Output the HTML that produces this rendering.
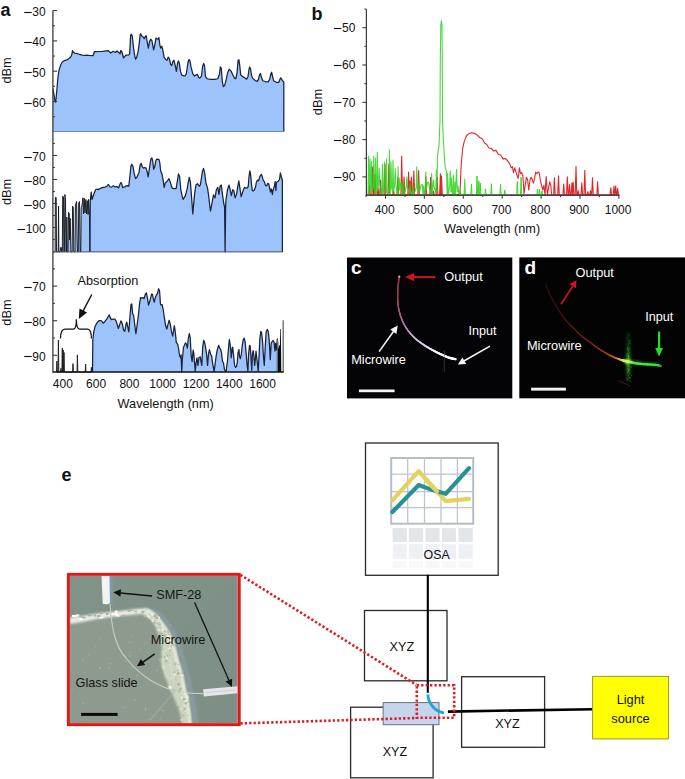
<!DOCTYPE html>
<html><head><meta charset="utf-8"><style>
html,body{margin:0;padding:0;background:#fff;}
svg{display:block;}
text{font-family:"Liberation Sans", sans-serif;}
</style></head><body>
<svg width="685" height="779" viewBox="0 0 685 779">
<rect width="685" height="779" fill="#fff"/>

<text x="0.5" y="15.8" font-size="18" font-weight="bold" fill="#111">a</text>
<path d="M52.90,131.50 L52.94,88.54 L53.84,93.93 L54.74,99.33 L55.37,102.02 L56.09,98.43 L56.99,88.54 L57.89,77.75 L58.79,71.46 L59.69,67.87 L61.03,64.27 L62.38,62.02 L64.18,60.67 L65.98,60.22 L67.78,59.33 L69.57,57.98 L71.19,56.18 L72.09,53.48 L72.45,50.61 L73.17,51.69 L74.52,53.03 L76.76,53.48 L79.46,54.38 L82.16,55.10 L84.85,55.28 L88.00,55.10 L88.54,55.50 L93.21,55.62 L94.38,51.53 L102.55,51.30 L108.39,50.60 L110.73,53.05 L113.07,51.30 L115.40,52.47 L117.15,50.95 L120.07,53.87 L120.66,50.60 L121.82,51.53 L123.58,57.96 L125.91,55.04 L128.83,54.80 L129.67,53.87 L130.61,35.18 L131.42,34.25 L132.24,36.35 L133.18,44.53 L134.34,53.87 L135.51,59.12 L136.68,57.37 L138.08,51.53 L139.25,43.36 L140.18,34.60 L140.77,33.78 L141.58,35.77 L143.10,36.93 L144.27,38.69 L145.44,36.35 L146.26,35.77 L147.42,43.36 L148.36,48.03 L149.53,41.61 L150.69,39.27 L151.86,40.44 L153.61,49.78 L154.78,45.11 L155.95,38.10 L157.12,38.69 L158.28,39.27 L158.87,37.52 L159.80,44.53 L160.62,48.03 L161.79,46.28 L162.61,49.20 L164.12,57.37 L165.88,59.71 L167.04,60.29 L168.21,57.14 L169.38,58.54 L170.55,64.38 L171.72,65.55 L172.88,61.46 L174.05,60.29 L175.22,65.55 L176.39,71.39 L177.55,63.21 L178.49,60.88 L179.31,63.21 L180.47,71.39 L181.64,74.89 L183.39,75.82 L185.15,75.82 L186.31,73.72 L188.07,62.04 L189.00,59.47 L189.93,60.88 L190.99,66.72 L192.74,73.72 L194.49,76.06 L196.24,74.89 L197.41,74.31 L198.58,77.23 L199.74,78.16 L201.50,76.06 L202.63,66.28 L203.68,63.39 L204.60,66.28 L205.52,76.79 L207.23,78.76 L210.51,79.42 L214.45,79.42 L217.74,78.76 L219.45,74.16 L220.37,66.93 L221.28,68.25 L222.34,82.04 L223.39,86.64 L224.70,85.33 L226.28,79.42 L227.59,72.85 L229.17,69.17 L230.88,70.88 L232.85,74.82 L234.42,78.10 L235.74,78.76 L237.05,72.85 L238.10,60.37 L238.89,59.71 L239.68,64.96 L240.73,74.82 L242.04,76.13 L244.67,77.84 L246.64,79.15 L247.96,76.79 L248.88,70.22 L249.66,66.93 L250.58,68.91 L251.50,75.47 L252.56,78.10 L255.18,80.47 L257.15,81.39 L258.47,79.42 L259.39,75.21 L260.44,73.50 L261.49,77.45 L262.80,80.73 L265.69,81.78 L268.32,81.78 L269.64,79.42 L270.95,73.50 L271.61,72.19 L272.53,76.13 L273.58,80.73 L276.21,82.31 L278.83,82.31 L279.88,79.42 L280.67,77.84 L281.72,79.42 L282.51,80.73 L283.43,81.39 L283.83,82.04 L283.80,131.50 Z" fill="#9dc3fd"/>
<line x1="52.9" y1="131.5" x2="283.8" y2="131.5" stroke="#6f86b8" stroke-width="1"/>
<polyline points="52.94,88.54 53.84,93.93 54.74,99.33 55.37,102.02 56.09,98.43 56.99,88.54 57.89,77.75 58.79,71.46 59.69,67.87 61.03,64.27 62.38,62.02 64.18,60.67 65.98,60.22 67.78,59.33 69.57,57.98 71.19,56.18 72.09,53.48 72.45,50.61 73.17,51.69 74.52,53.03 76.76,53.48 79.46,54.38 82.16,55.10 84.85,55.28 88.00,55.10 88.54,55.50 93.21,55.62 94.38,51.53 102.55,51.30 108.39,50.60 110.73,53.05 113.07,51.30 115.40,52.47 117.15,50.95 120.07,53.87 120.66,50.60 121.82,51.53 123.58,57.96 125.91,55.04 128.83,54.80 129.67,53.87 130.61,35.18 131.42,34.25 132.24,36.35 133.18,44.53 134.34,53.87 135.51,59.12 136.68,57.37 138.08,51.53 139.25,43.36 140.18,34.60 140.77,33.78 141.58,35.77 143.10,36.93 144.27,38.69 145.44,36.35 146.26,35.77 147.42,43.36 148.36,48.03 149.53,41.61 150.69,39.27 151.86,40.44 153.61,49.78 154.78,45.11 155.95,38.10 157.12,38.69 158.28,39.27 158.87,37.52 159.80,44.53 160.62,48.03 161.79,46.28 162.61,49.20 164.12,57.37 165.88,59.71 167.04,60.29 168.21,57.14 169.38,58.54 170.55,64.38 171.72,65.55 172.88,61.46 174.05,60.29 175.22,65.55 176.39,71.39 177.55,63.21 178.49,60.88 179.31,63.21 180.47,71.39 181.64,74.89 183.39,75.82 185.15,75.82 186.31,73.72 188.07,62.04 189.00,59.47 189.93,60.88 190.99,66.72 192.74,73.72 194.49,76.06 196.24,74.89 197.41,74.31 198.58,77.23 199.74,78.16 201.50,76.06 202.63,66.28 203.68,63.39 204.60,66.28 205.52,76.79 207.23,78.76 210.51,79.42 214.45,79.42 217.74,78.76 219.45,74.16 220.37,66.93 221.28,68.25 222.34,82.04 223.39,86.64 224.70,85.33 226.28,79.42 227.59,72.85 229.17,69.17 230.88,70.88 232.85,74.82 234.42,78.10 235.74,78.76 237.05,72.85 238.10,60.37 238.89,59.71 239.68,64.96 240.73,74.82 242.04,76.13 244.67,77.84 246.64,79.15 247.96,76.79 248.88,70.22 249.66,66.93 250.58,68.91 251.50,75.47 252.56,78.10 255.18,80.47 257.15,81.39 258.47,79.42 259.39,75.21 260.44,73.50 261.49,77.45 262.80,80.73 265.69,81.78 268.32,81.78 269.64,79.42 270.95,73.50 271.61,72.19 272.53,76.13 273.58,80.73 276.21,82.31 278.83,82.31 279.88,79.42 280.67,77.84 281.72,79.42 282.51,80.73 283.43,81.39 283.83,82.04 283.8,131.5" fill="none" stroke="#19233a" stroke-width="1.25" stroke-linejoin="round"/>
<path d="M52.90,251.90 L53.50,251.90 L55.10,251.90 L55.40,197.40 L56.20,197.60 L56.50,251.90 L58.20,251.90 L58.55,206.00 L58.90,251.90 L60.20,251.90 L60.60,247.50 L61.40,247.50 L61.70,251.90 L62.30,251.90 L62.70,196.20 L63.50,197.00 L63.90,251.90 L64.40,251.90 L64.90,194.50 L65.50,200.00 L66.00,251.90 L66.50,251.90 L66.80,217.10 L67.20,251.90 L68.00,251.90 L68.50,212.20 L69.30,214.00 L69.70,240.00 L70.20,218.30 L70.90,251.90 L72.10,251.90 L72.60,206.00 L73.30,208.00 L73.80,251.90 L75.00,251.90 L75.40,206.00 L76.10,203.00 L76.60,201.50 L77.10,238.00 L77.50,251.90 L78.30,251.90 L78.70,203.10 L79.50,201.50 L80.20,251.90 L80.80,251.90 L81.20,207.70 L82.10,205.00 L82.90,197.80 L83.50,214.00 L84.20,198.20 L85.00,213.00 L85.80,199.50 L86.60,214.00 L87.30,200.70 L88.10,214.50 L88.60,199.40 L89.40,212.00 L89.90,251.90 L90.27,201.19 L91.17,192.19 L92.06,199.39 L93.86,193.99 L95.66,189.50 L98.00,189.05 L98.18,189.71 L99.93,188.54 L101.68,187.96 L103.43,187.37 L105.18,187.14 L106.93,186.20 L108.45,184.45 L109.85,186.79 L111.61,187.14 L113.36,185.62 L115.11,187.14 L116.86,186.44 L118.61,187.96 L120.13,183.87 L120.95,182.47 L121.77,183.87 L122.70,187.61 L123.87,187.14 L125.62,186.20 L127.37,185.62 L128.77,186.20 L129.71,178.03 L130.88,166.35 L131.81,164.25 L132.98,166.35 L134.15,173.36 L135.55,178.61 L136.72,177.45 L137.88,175.11 L139.05,172.19 L140.22,164.60 L141.15,163.43 L142.32,166.93 L143.49,168.10 L144.89,167.52 L146.06,168.10 L147.23,172.19 L148.16,176.86 L149.56,167.52 L150.96,158.76 L151.90,157.94 L152.83,161.68 L153.65,169.27 L154.82,166.35 L155.99,159.93 L157.15,159.11 L158.91,159.34 L159.84,162.85 L160.66,171.02 L161.82,173.36 L162.99,179.20 L164.16,187.37 L165.33,182.70 L167.08,181.53 L168.83,178.61 L170.26,182.12 L172.01,187.96 L173.76,188.54 L176.09,188.54 L177.26,181.53 L178.43,173.94 L179.60,176.28 L180.77,189.71 L182.52,197.88 L183.10,199.05 L183.10,199.30 L185.44,195.55 L187.19,188.54 L188.36,181.53 L189.29,177.45 L190.46,182.70 L191.63,197.88 L192.80,214.00 L193.61,204.89 L194.78,192.04 L195.95,185.04 L197.47,183.64 L199.10,186.20 L200.27,185.04 L201.44,178.03 L202.37,171.61 L203.54,168.45 L204.71,173.36 L205.88,182.70 L207.63,188.54 L208.80,196.72 L209.96,207.23 L210.50,211.00 L212.30,201.39 L213.47,194.96 L214.99,197.88 L216.39,189.71 L217.79,187.37 L218.96,194.38 L220.12,186.20 L221.29,185.04 L222.46,194.38 L223.63,202.55 L224.56,207.23 L224.60,208.70 L225.10,251.90 L225.60,208.00 L225.96,200.22 L227.48,189.71 L229.00,185.04 L230.17,189.71 L231.34,195.55 L232.74,189.71 L233.91,190.88 L235.07,197.88 L236.47,194.38 L237.64,187.37 L238.81,180.95 L239.98,188.54 L241.15,196.72 L242.66,192.04 L244.42,187.37 L244.64,187.30 L245.84,188.10 L247.04,188.10 L248.25,186.50 L249.05,176.06 L249.85,170.84 L250.66,174.45 L251.46,184.09 L252.26,190.51 L253.07,190.91 L254.27,190.11 L255.47,187.30 L256.28,182.48 L257.48,180.07 L258.69,180.88 L259.49,177.66 L260.53,175.26 L261.50,174.45 L262.30,176.86 L263.10,180.07 L264.31,181.68 L265.51,185.69 L266.72,185.69 L267.76,183.28 L268.72,184.09 L269.69,188.10 L270.49,192.12 L271.13,188.91 L271.77,190.51 L272.34,194.53 L273.14,189.71 L274.34,186.50 L275.15,181.68 L275.95,190.51 L276.35,183.28 L277.15,181.68 L278.36,181.28 L279.56,179.27 L280.37,172.85 L281.17,176.06 L281.97,179.27 L282.37,179.67 L282.40,251.90 Z" fill="#9dc3fd"/>
<polyline points="53.50,251.90 55.10,251.90 55.40,197.40 56.20,197.60 56.50,251.90 58.20,251.90 58.55,206.00 58.90,251.90 60.20,251.90 60.60,247.50 61.40,247.50 61.70,251.90 62.30,251.90 62.70,196.20 63.50,197.00 63.90,251.90 64.40,251.90 64.90,194.50 65.50,200.00 66.00,251.90 66.50,251.90 66.80,217.10 67.20,251.90 68.00,251.90 68.50,212.20 69.30,214.00 69.70,240.00 70.20,218.30 70.90,251.90 72.10,251.90 72.60,206.00 73.30,208.00 73.80,251.90 75.00,251.90 75.40,206.00 76.10,203.00 76.60,201.50 77.10,238.00 77.50,251.90 78.30,251.90 78.70,203.10 79.50,201.50 80.20,251.90 80.80,251.90 81.20,207.70 82.10,205.00 82.90,197.80 83.50,214.00 84.20,198.20 85.00,213.00 85.80,199.50 86.60,214.00 87.30,200.70 88.10,214.50 88.60,199.40 89.40,212.00 89.90,251.90" fill="none" stroke="#15171d" stroke-width="0.95" stroke-linejoin="miter"/>
<polyline points="89.9,251.9 90.27,201.19 91.17,192.19 92.06,199.39 93.86,193.99 95.66,189.50 98.00,189.05 98.18,189.71 99.93,188.54 101.68,187.96 103.43,187.37 105.18,187.14 106.93,186.20 108.45,184.45 109.85,186.79 111.61,187.14 113.36,185.62 115.11,187.14 116.86,186.44 118.61,187.96 120.13,183.87 120.95,182.47 121.77,183.87 122.70,187.61 123.87,187.14 125.62,186.20 127.37,185.62 128.77,186.20 129.71,178.03 130.88,166.35 131.81,164.25 132.98,166.35 134.15,173.36 135.55,178.61 136.72,177.45 137.88,175.11 139.05,172.19 140.22,164.60 141.15,163.43 142.32,166.93 143.49,168.10 144.89,167.52 146.06,168.10 147.23,172.19 148.16,176.86 149.56,167.52 150.96,158.76 151.90,157.94 152.83,161.68 153.65,169.27 154.82,166.35 155.99,159.93 157.15,159.11 158.91,159.34 159.84,162.85 160.66,171.02 161.82,173.36 162.99,179.20 164.16,187.37 165.33,182.70 167.08,181.53 168.83,178.61 170.26,182.12 172.01,187.96 173.76,188.54 176.09,188.54 177.26,181.53 178.43,173.94 179.60,176.28 180.77,189.71 182.52,197.88 183.10,199.05 183.10,199.30 185.44,195.55 187.19,188.54 188.36,181.53 189.29,177.45 190.46,182.70 191.63,197.88 192.80,214.00 193.61,204.89 194.78,192.04 195.95,185.04 197.47,183.64 199.10,186.20 200.27,185.04 201.44,178.03 202.37,171.61 203.54,168.45 204.71,173.36 205.88,182.70 207.63,188.54 208.80,196.72 209.96,207.23 210.50,211.00 212.30,201.39 213.47,194.96 214.99,197.88 216.39,189.71 217.79,187.37 218.96,194.38 220.12,186.20 221.29,185.04 222.46,194.38 223.63,202.55 224.56,207.23 224.60,208.70 225.10,251.90 225.60,208.00 225.96,200.22 227.48,189.71 229.00,185.04 230.17,189.71 231.34,195.55 232.74,189.71 233.91,190.88 235.07,197.88 236.47,194.38 237.64,187.37 238.81,180.95 239.98,188.54 241.15,196.72 242.66,192.04 244.42,187.37 244.64,187.30 245.84,188.10 247.04,188.10 248.25,186.50 249.05,176.06 249.85,170.84 250.66,174.45 251.46,184.09 252.26,190.51 253.07,190.91 254.27,190.11 255.47,187.30 256.28,182.48 257.48,180.07 258.69,180.88 259.49,177.66 260.53,175.26 261.50,174.45 262.30,176.86 263.10,180.07 264.31,181.68 265.51,185.69 266.72,185.69 267.76,183.28 268.72,184.09 269.69,188.10 270.49,192.12 271.13,188.91 271.77,190.51 272.34,194.53 273.14,189.71 274.34,186.50 275.15,181.68 275.95,190.51 276.35,183.28 277.15,181.68 278.36,181.28 279.56,179.27 280.37,172.85 281.17,176.06 281.97,179.27 282.37,179.67 282.4,251.9" fill="none" stroke="#19233a" stroke-width="1.25" stroke-linejoin="round"/>
<line x1="52.9" y1="251.9" x2="282.6" y2="251.9" stroke="#555" stroke-width="1"/>
<path d="M92.51,372.10 L92.51,372.06 L92.80,340.46 L93.76,331.79 L95.21,326.01 L97.13,322.64 L99.06,320.71 L100.99,320.71 L101.42,320.88 L103.18,323.21 L104.93,321.46 L106.68,319.12 L108.43,316.20 L109.25,314.80 L110.18,317.37 L111.35,319.71 L113.10,319.12 L114.85,319.12 L116.02,320.88 L117.19,324.38 L118.36,328.47 L119.53,324.96 L120.93,320.88 L122.09,323.21 L123.61,330.22 L124.78,331.39 L125.95,324.38 L126.77,322.04 L127.70,326.72 L128.87,331.97 L129.80,318.54 L130.97,304.53 L131.79,303.94 L132.61,313.87 L133.54,315.04 L134.71,324.38 L135.88,333.72 L137.04,325.55 L138.45,315.04 L139.61,303.36 L140.55,297.52 L141.72,298.10 L142.88,297.52 L144.05,298.69 L145.45,294.01 L146.39,292.85 L147.55,298.69 L148.49,305.11 L149.31,302.77 L150.47,298.69 L151.64,294.01 L152.58,294.60 L153.39,299.27 L154.33,302.19 L155.15,298.10 L156.31,295.18 L157.48,293.43 L158.65,288.76 L159.58,291.09 L160.40,303.36 L160.99,305.11 L162.15,304.53 L163.32,310.36 L164.49,318.54 L165.66,325.55 L166.82,329.05 L167.99,324.38 L169.16,320.29 L170.33,324.38 L171.50,331.39 L172.66,336.06 L173.37,331.78 L174.33,325.52 L175.30,331.78 L176.26,342.38 L177.70,344.30 L178.67,349.12 L179.63,355.86 L180.59,357.79 L181.08,354.90 L181.75,371.75 L182.33,359.71 L183.48,347.19 L184.45,345.27 L185.41,342.86 L186.37,343.82 L187.34,348.16 L188.30,338.52 L189.26,333.71 L190.23,337.56 L191.19,355.86 L192.15,361.64 L193.11,350.08 L193.89,353.93 L194.56,362.60 L195.23,371.27 L196.00,363.57 L196.97,357.79 L197.93,365.49 L198.89,357.79 L200.34,356.82 L201.01,361.64 L201.78,365.49 L202.75,346.23 L203.71,340.45 L204.67,342.38 L205.83,349.12 L206.79,355.86 L207.56,365.49 L208.52,353.93 L209.49,349.60 L210.45,353.93 L211.61,355.86 L212.38,361.64 L213.34,367.42 L214.11,371.75 L214.78,366.45 L216.04,356.82 L217.19,350.08 L218.64,345.27 L219.60,348.16 L220.56,349.12 L221.53,352.97 L222.49,361.64 L223.45,362.60 L224.42,369.34 L225.38,371.27 L226.34,371.27 L226.44,367.89 L227.41,361.63 L228.37,350.07 L229.33,339.48 L230.30,345.26 L231.26,357.78 L232.22,348.15 L232.70,347.18 L233.67,355.85 L234.63,365.48 L235.59,367.40 L236.56,366.44 L237.33,361.63 L238.00,352.96 L238.96,349.59 L239.44,355.85 L240.41,358.74 L241.37,353.92 L242.14,346.22 L243.30,339.48 L244.26,338.04 L245.22,342.37 L246.18,353.92 L247.15,365.48 L247.92,371.26 L248.59,353.92 L249.55,345.26 L250.23,346.22 L251.00,357.78 L251.77,370.29 L252.44,353.92 L253.12,350.55 L253.89,355.85 L254.66,365.48 L255.33,359.70 L256.01,351.04 L256.78,357.78 L257.74,366.44 L258.22,371.26 L259.18,353.92 L259.86,338.52 L260.82,331.30 L261.59,332.74 L262.55,341.41 L263.52,357.78 L264.29,365.48 L265.25,346.22 L266.21,331.78 L267.37,329.37 L268.33,331.78 L269.29,341.41 L270.26,359.70 L271.22,343.33 L272.18,341.41 L273.15,340.44 L274.11,342.37 L274.88,351.04 L275.55,343.33 L276.52,350.07 L277.19,339.48 L277.77,342.37 L277.96,371.74 L275.00,372.10 Z" fill="#9dc3fd"/>
<polyline points="92.51,372.06 92.80,340.46 93.76,331.79 95.21,326.01 97.13,322.64 99.06,320.71 100.99,320.71 101.42,320.88 103.18,323.21 104.93,321.46 106.68,319.12 108.43,316.20 109.25,314.80 110.18,317.37 111.35,319.71 113.10,319.12 114.85,319.12 116.02,320.88 117.19,324.38 118.36,328.47 119.53,324.96 120.93,320.88 122.09,323.21 123.61,330.22 124.78,331.39 125.95,324.38 126.77,322.04 127.70,326.72 128.87,331.97 129.80,318.54 130.97,304.53 131.79,303.94 132.61,313.87 133.54,315.04 134.71,324.38 135.88,333.72 137.04,325.55 138.45,315.04 139.61,303.36 140.55,297.52 141.72,298.10 142.88,297.52 144.05,298.69 145.45,294.01 146.39,292.85 147.55,298.69 148.49,305.11 149.31,302.77 150.47,298.69 151.64,294.01 152.58,294.60 153.39,299.27 154.33,302.19 155.15,298.10 156.31,295.18 157.48,293.43 158.65,288.76 159.58,291.09 160.40,303.36 160.99,305.11 162.15,304.53 163.32,310.36 164.49,318.54 165.66,325.55 166.82,329.05 167.99,324.38 169.16,320.29 170.33,324.38 171.50,331.39 172.66,336.06 173.37,331.78 174.33,325.52 175.30,331.78 176.26,342.38 177.70,344.30 178.67,349.12 179.63,355.86 180.59,357.79 181.08,354.90 181.75,371.75 182.33,359.71 183.48,347.19 184.45,345.27 185.41,342.86 186.37,343.82 187.34,348.16 188.30,338.52 189.26,333.71 190.23,337.56 191.19,355.86 192.15,361.64 193.11,350.08 193.89,353.93 194.56,362.60 195.23,371.27 196.00,363.57 196.97,357.79 197.93,365.49 198.89,357.79 200.34,356.82 201.01,361.64 201.78,365.49 202.75,346.23 203.71,340.45 204.67,342.38 205.83,349.12 206.79,355.86 207.56,365.49 208.52,353.93 209.49,349.60 210.45,353.93 211.61,355.86 212.38,361.64 213.34,367.42 214.11,371.75 214.78,366.45 216.04,356.82 217.19,350.08 218.64,345.27 219.60,348.16 220.56,349.12 221.53,352.97 222.49,361.64 223.45,362.60 224.42,369.34 225.38,371.27 226.34,371.27 226.44,367.89 227.41,361.63 228.37,350.07 229.33,339.48 230.30,345.26 231.26,357.78 232.22,348.15 232.70,347.18 233.67,355.85 234.63,365.48 235.59,367.40 236.56,366.44 237.33,361.63 238.00,352.96 238.96,349.59 239.44,355.85 240.41,358.74 241.37,353.92 242.14,346.22 243.30,339.48 244.26,338.04 245.22,342.37 246.18,353.92 247.15,365.48 247.92,371.26 248.59,353.92 249.55,345.26 250.23,346.22 251.00,357.78 251.77,370.29 252.44,353.92 253.12,350.55 253.89,355.85 254.66,365.48 255.33,359.70 256.01,351.04 256.78,357.78 257.74,366.44 258.22,371.26 259.18,353.92 259.86,338.52 260.82,331.30 261.59,332.74 262.55,341.41 263.52,357.78 264.29,365.48 265.25,346.22 266.21,331.78 267.37,329.37 268.33,331.78 269.29,341.41 270.26,359.70 271.22,343.33 272.18,341.41 273.15,340.44 274.11,342.37 274.88,351.04 275.55,343.33 276.52,350.07 277.19,339.48 277.77,342.37 277.96,371.74" fill="none" stroke="#19233a" stroke-width="1.25" stroke-linejoin="round"/>
<polyline points="56.50,372.10 56.90,361.20 57.30,372.10 58.00,372.10 58.40,340.00 58.80,372.10 60.60,372.10 61.00,368.40 61.40,372.10 61.90,372.10 62.30,348.20 62.70,372.10 62.80,372.10 63.20,350.00 63.60,372.10 63.60,372.10 64.00,352.50 64.40,372.10 72.60,372.10 73.00,363.60 73.40,372.10 77.00,372.10 77.40,354.90 77.80,372.10 85.20,372.10 85.60,364.00 86.00,372.10 91.00,372.10 91.40,367.40 91.80,372.10" fill="none" stroke="#222" stroke-width="1"/>
<polygon points="276.8,372.1 276.9,352 277.6,346.5 278.4,349 279.2,345 279.9,346 280.3,329 280.9,329 281.3,372.1" fill="#0c0c10"/>
<line x1="277.5" y1="372" x2="277.5" y2="338" stroke="#6a6a70" stroke-width="1"/>
<line x1="283.2" y1="372" x2="283.2" y2="320.2" stroke="#66666a" stroke-width="1.3"/>
<line x1="52.9" y1="372.1" x2="283.7" y2="372.1" stroke="#111" stroke-width="1.5"/>
<line x1="52.9" y1="10.5" x2="52.9" y2="372.8" stroke="#3a3a3a" stroke-width="1.3"/>
<line x1="52.9" y1="10.60" x2="57.10" y2="10.60" stroke="#3a3a3a" stroke-width="1.1"/>
<line x1="52.9" y1="25.75" x2="54.90" y2="25.75" stroke="#3a3a3a" stroke-width="1.1"/>
<line x1="52.9" y1="40.90" x2="57.10" y2="40.90" stroke="#3a3a3a" stroke-width="1.1"/>
<line x1="52.9" y1="56.05" x2="54.90" y2="56.05" stroke="#3a3a3a" stroke-width="1.1"/>
<line x1="52.9" y1="71.20" x2="57.10" y2="71.20" stroke="#3a3a3a" stroke-width="1.1"/>
<line x1="52.9" y1="86.35" x2="54.90" y2="86.35" stroke="#3a3a3a" stroke-width="1.1"/>
<line x1="52.9" y1="101.50" x2="57.10" y2="101.50" stroke="#3a3a3a" stroke-width="1.1"/>
<line x1="52.9" y1="116.65" x2="54.90" y2="116.65" stroke="#3a3a3a" stroke-width="1.1"/>
<line x1="52.9" y1="143.50" x2="54.90" y2="143.50" stroke="#3a3a3a" stroke-width="1.1"/>
<line x1="52.9" y1="155.50" x2="57.10" y2="155.50" stroke="#3a3a3a" stroke-width="1.1"/>
<line x1="52.9" y1="167.50" x2="54.90" y2="167.50" stroke="#3a3a3a" stroke-width="1.1"/>
<line x1="52.9" y1="179.50" x2="57.10" y2="179.50" stroke="#3a3a3a" stroke-width="1.1"/>
<line x1="52.9" y1="191.50" x2="54.90" y2="191.50" stroke="#3a3a3a" stroke-width="1.1"/>
<line x1="52.9" y1="203.50" x2="57.10" y2="203.50" stroke="#3a3a3a" stroke-width="1.1"/>
<line x1="52.9" y1="215.50" x2="54.90" y2="215.50" stroke="#3a3a3a" stroke-width="1.1"/>
<line x1="52.9" y1="227.50" x2="57.10" y2="227.50" stroke="#3a3a3a" stroke-width="1.1"/>
<line x1="52.9" y1="239.50" x2="54.90" y2="239.50" stroke="#3a3a3a" stroke-width="1.1"/>
<line x1="52.9" y1="268.80" x2="54.90" y2="268.80" stroke="#3a3a3a" stroke-width="1.1"/>
<line x1="52.9" y1="286.10" x2="57.10" y2="286.10" stroke="#3a3a3a" stroke-width="1.1"/>
<line x1="52.9" y1="303.40" x2="54.90" y2="303.40" stroke="#3a3a3a" stroke-width="1.1"/>
<line x1="52.9" y1="320.70" x2="57.10" y2="320.70" stroke="#3a3a3a" stroke-width="1.1"/>
<line x1="52.9" y1="338.00" x2="54.90" y2="338.00" stroke="#3a3a3a" stroke-width="1.1"/>
<line x1="52.9" y1="355.30" x2="57.10" y2="355.30" stroke="#3a3a3a" stroke-width="1.1"/>
<text x="45.7" y="15.90" font-size="12" text-anchor="end" fill="#111">30</text>
<line x1="24.16" y1="12.50" x2="31.76" y2="12.50" stroke="#111" stroke-width="1.1"/>
<text x="45.7" y="46.20" font-size="12" text-anchor="end" fill="#111">40</text>
<line x1="24.16" y1="42.50" x2="31.76" y2="42.50" stroke="#111" stroke-width="1.1"/>
<text x="45.7" y="76.50" font-size="12" text-anchor="end" fill="#111">50</text>
<line x1="24.16" y1="72.50" x2="31.76" y2="72.50" stroke="#111" stroke-width="1.1"/>
<text x="45.7" y="106.80" font-size="12" text-anchor="end" fill="#111">60</text>
<line x1="24.16" y1="103.50" x2="31.76" y2="103.50" stroke="#111" stroke-width="1.1"/>
<text x="45.7" y="160.80" font-size="12" text-anchor="end" fill="#111">70</text>
<line x1="24.16" y1="157.50" x2="31.76" y2="157.50" stroke="#111" stroke-width="1.1"/>
<text x="45.7" y="184.80" font-size="12" text-anchor="end" fill="#111">80</text>
<line x1="24.16" y1="181.50" x2="31.76" y2="181.50" stroke="#111" stroke-width="1.1"/>
<text x="45.7" y="208.80" font-size="12" text-anchor="end" fill="#111">90</text>
<line x1="24.16" y1="205.50" x2="31.76" y2="205.50" stroke="#111" stroke-width="1.1"/>
<text x="45.7" y="232.80" font-size="12" text-anchor="end" fill="#111">100</text>
<line x1="17.48" y1="229.50" x2="25.08" y2="229.50" stroke="#111" stroke-width="1.1"/>
<text x="45.7" y="291.40" font-size="12" text-anchor="end" fill="#111">70</text>
<line x1="24.16" y1="287.50" x2="31.76" y2="287.50" stroke="#111" stroke-width="1.1"/>
<text x="45.7" y="326.00" font-size="12" text-anchor="end" fill="#111">80</text>
<line x1="24.16" y1="322.50" x2="31.76" y2="322.50" stroke="#111" stroke-width="1.1"/>
<text x="45.7" y="360.60" font-size="12" text-anchor="end" fill="#111">90</text>
<line x1="24.16" y1="356.50" x2="31.76" y2="356.50" stroke="#111" stroke-width="1.1"/>
<text transform="translate(11.2,70.4) rotate(-90)" x="0" y="0" font-size="12.8" text-anchor="middle" fill="#111">dBm</text>
<text transform="translate(11.2,191.9) rotate(-90)" x="0" y="0" font-size="12.8" text-anchor="middle" fill="#111">dBm</text>
<text transform="translate(11.2,312.5) rotate(-90)" x="0" y="0" font-size="12.8" text-anchor="middle" fill="#111">dBm</text>
<text x="62.80" y="388.2" font-size="12" text-anchor="middle" fill="#111">400</text>
<text x="96.10" y="388.2" font-size="12" text-anchor="middle" fill="#111">600</text>
<text x="129.40" y="388.2" font-size="12" text-anchor="middle" fill="#111">800</text>
<text x="162.70" y="388.2" font-size="12" text-anchor="middle" fill="#111">1000</text>
<text x="196.00" y="388.2" font-size="12" text-anchor="middle" fill="#111">1200</text>
<text x="229.30" y="388.2" font-size="12" text-anchor="middle" fill="#111">1400</text>
<text x="262.60" y="388.2" font-size="12" text-anchor="middle" fill="#111">1600</text>
<text x="117.6" y="408.3" font-size="12.7" fill="#111">Wavelength (nm)</text>
<text x="77.6" y="284.6" font-size="12.7" fill="#111">Absorption</text>
<path d="M60.5,338.5 Q60.5,329 65,329 L73.5,329 Q76.4,329 76.4,319.3 Q76.4,329 79.5,329 L87.5,329 Q91.4,329 91.4,338.5" fill="none" stroke="#111" stroke-width="1.25"/>
<text x="311.5" y="19.8" font-size="18" font-weight="bold" fill="#111">b</text>
<line x1="366.4" y1="9.2" x2="366.4" y2="195.2" stroke="#3a3a3a" stroke-width="1.2"/>
<line x1="364.4" y1="9.05" x2="366.4" y2="9.05" stroke="#3a3a3a" stroke-width="1.1"/>
<line x1="362.4" y1="27.70" x2="366.4" y2="27.70" stroke="#3a3a3a" stroke-width="1.1"/>
<line x1="364.4" y1="46.35" x2="366.4" y2="46.35" stroke="#3a3a3a" stroke-width="1.1"/>
<line x1="362.4" y1="65.00" x2="366.4" y2="65.00" stroke="#3a3a3a" stroke-width="1.1"/>
<line x1="364.4" y1="83.65" x2="366.4" y2="83.65" stroke="#3a3a3a" stroke-width="1.1"/>
<line x1="362.4" y1="102.30" x2="366.4" y2="102.30" stroke="#3a3a3a" stroke-width="1.1"/>
<line x1="364.4" y1="120.95" x2="366.4" y2="120.95" stroke="#3a3a3a" stroke-width="1.1"/>
<line x1="362.4" y1="139.60" x2="366.4" y2="139.60" stroke="#3a3a3a" stroke-width="1.1"/>
<line x1="364.4" y1="158.25" x2="366.4" y2="158.25" stroke="#3a3a3a" stroke-width="1.1"/>
<line x1="362.4" y1="176.90" x2="366.4" y2="176.90" stroke="#3a3a3a" stroke-width="1.1"/>
<text x="355.4" y="32.00" font-size="12" text-anchor="end" fill="#111">50</text>
<line x1="333.86" y1="28.50" x2="341.46" y2="28.50" stroke="#111" stroke-width="1.1"/>
<text x="355.4" y="69.30" font-size="12" text-anchor="end" fill="#111">60</text>
<line x1="333.86" y1="65.50" x2="341.46" y2="65.50" stroke="#111" stroke-width="1.1"/>
<text x="355.4" y="106.60" font-size="12" text-anchor="end" fill="#111">70</text>
<line x1="333.86" y1="102.50" x2="341.46" y2="102.50" stroke="#111" stroke-width="1.1"/>
<text x="355.4" y="143.90" font-size="12" text-anchor="end" fill="#111">80</text>
<line x1="333.86" y1="140.50" x2="341.46" y2="140.50" stroke="#111" stroke-width="1.1"/>
<text x="355.4" y="181.20" font-size="12" text-anchor="end" fill="#111">90</text>
<line x1="333.86" y1="177.50" x2="341.46" y2="177.50" stroke="#111" stroke-width="1.1"/>
<text transform="translate(322.0,102.0) rotate(-90)" x="0" y="0" font-size="12.8" text-anchor="middle" fill="#111">dBm</text>
<line x1="365.79999999999995" y1="195.2" x2="619.40" y2="195.2" stroke="#3a3a3a" stroke-width="1.2"/>
<line x1="366.05" y1="195.2" x2="366.05" y2="197.0" stroke="#3a3a3a" stroke-width="1.1"/>
<line x1="385.50" y1="195.2" x2="385.50" y2="198.7" stroke="#3a3a3a" stroke-width="1.1"/>
<line x1="404.95" y1="195.2" x2="404.95" y2="197.0" stroke="#3a3a3a" stroke-width="1.1"/>
<line x1="424.40" y1="195.2" x2="424.40" y2="198.7" stroke="#3a3a3a" stroke-width="1.1"/>
<line x1="443.85" y1="195.2" x2="443.85" y2="197.0" stroke="#3a3a3a" stroke-width="1.1"/>
<line x1="463.30" y1="195.2" x2="463.30" y2="198.7" stroke="#3a3a3a" stroke-width="1.1"/>
<line x1="482.75" y1="195.2" x2="482.75" y2="197.0" stroke="#3a3a3a" stroke-width="1.1"/>
<line x1="502.20" y1="195.2" x2="502.20" y2="198.7" stroke="#3a3a3a" stroke-width="1.1"/>
<line x1="521.65" y1="195.2" x2="521.65" y2="197.0" stroke="#3a3a3a" stroke-width="1.1"/>
<line x1="541.10" y1="195.2" x2="541.10" y2="198.7" stroke="#3a3a3a" stroke-width="1.1"/>
<line x1="560.55" y1="195.2" x2="560.55" y2="197.0" stroke="#3a3a3a" stroke-width="1.1"/>
<line x1="580.00" y1="195.2" x2="580.00" y2="198.7" stroke="#3a3a3a" stroke-width="1.1"/>
<line x1="599.45" y1="195.2" x2="599.45" y2="197.0" stroke="#3a3a3a" stroke-width="1.1"/>
<line x1="618.90" y1="195.2" x2="618.90" y2="198.7" stroke="#3a3a3a" stroke-width="1.1"/>
<text x="384.70" y="214.3" font-size="12" text-anchor="middle" fill="#111">400</text>
<text x="423.60" y="214.3" font-size="12" text-anchor="middle" fill="#111">500</text>
<text x="462.50" y="214.3" font-size="12" text-anchor="middle" fill="#111">600</text>
<text x="501.40" y="214.3" font-size="12" text-anchor="middle" fill="#111">700</text>
<text x="540.30" y="214.3" font-size="12" text-anchor="middle" fill="#111">800</text>
<text x="579.20" y="214.3" font-size="12" text-anchor="middle" fill="#111">900</text>
<text x="618.10" y="214.3" font-size="12" text-anchor="middle" fill="#111">1000</text>
<text x="444.0" y="233" font-size="12.7" fill="#111">Wavelength (nm)</text>
<polyline points="366.80,195.20 368.70,195.20 369.50,186.00 370.30,195.20 371.80,195.20 372.60,167.00 373.40,195.20 374.20,195.20 375.00,175.00 375.80,195.20 377.20,195.20 378.00,188.00 378.80,195.20 379.70,195.20 380.50,180.00 381.30,195.20 384.10,195.20 384.90,164.00 385.70,195.20 388.10,195.20 388.90,164.00 389.70,195.20 392.70,195.20 393.50,190.00 394.30,195.20 397.00,195.20 397.80,178.00 398.60,195.20 400.90,195.20 401.70,156.00 402.50,195.20 403.30,195.20 404.10,177.00 404.90,195.20 407.80,195.20 408.60,172.00 409.40,195.20 409.10,195.20 409.90,181.00 410.70,195.20 410.60,195.20 411.40,177.00 412.20,195.20 413.00,195.20 413.80,171.00 414.60,195.20 417.80,195.20 418.60,170.50 419.40,195.20 425.00,195.20 425.80,176.40 426.60,195.20 429.80,195.20 430.60,177.50 431.40,195.20 432.70,195.20 433.50,191.00 434.30,195.20 436.30,195.20 437.10,177.00 437.90,195.20 439.60,195.20 440.40,173.80 441.20,195.20 440.70,195.20 441.50,176.00 442.30,195.20 446.00,195.20 455.00,195.20 460.00,194.00 461.10,166.20 462.60,148.80 464.20,141.60 466.20,136.40 468.30,133.90 471.40,132.80 474.50,133.40 475.00,133.40 477.30,135.20 479.70,137.50 482.00,138.70 483.20,140.40 484.30,142.80 486.70,144.50 489.00,148.00 491.40,148.60 493.70,151.00 496.00,150.40 498.40,154.50 500.70,155.00 503.00,159.10 505.40,158.50 507.70,160.90 510.00,164.40 511.20,167.90 512.40,166.70 513.50,172.60 514.70,167.90 516.50,173.70 518.20,178.40 519.40,167.90 520.50,173.70 521.70,172.60 522.90,176.00 524.00,193.60 525.20,185.40 526.40,177.20 527.60,179.60 528.70,190.00 529.90,180.70 531.00,177.20 532.20,179.60 533.40,183.00 534.60,178.40 535.70,172.00 536.90,173.70 538.10,172.00 539.20,172.60 540.40,180.70 541.60,185.40 542.70,190.00 543.90,185.40 545.00,194.70 546.20,176.60 547.40,194.70 549.70,181.90 550.90,185.40 551.50,194.70 553.60,195.20 554.40,177.90 555.20,195.20 557.70,195.20 558.50,175.70 559.30,195.20 562.90,195.20 563.70,184.00 564.50,195.20 566.50,195.20 567.30,176.80 568.10,195.20 568.70,195.20 569.50,184.50 570.30,195.20 571.10,195.20 571.90,182.80 572.70,195.20 572.40,195.20 573.20,182.30 574.00,195.20 575.20,195.20 576.00,166.40 576.80,195.20 577.40,195.20 578.20,190.50 579.00,195.20 581.00,195.20 581.80,182.80 582.60,195.20 584.00,195.20 584.80,170.30 585.60,195.20 587.00,195.20 587.80,191.60 588.60,195.20 589.70,195.20 590.50,190.50 591.30,195.20 591.70,195.20 592.50,177.90 593.30,195.20 596.80,195.20 597.60,181.80 598.40,195.20 610.00,195.20 610.80,187.80 611.60,195.20 613.20,195.20 614.00,186.10 614.80,195.20 614.90,195.20 615.70,186.10 616.50,195.20 616.90,195.20 617.70,188.30 618.50,195.20 618.50,195.20" fill="none" stroke="#e0262a" stroke-width="1.1" stroke-linejoin="round"/>
<polyline points="366.60,195.20 368.00,195.20 368.60,156.00 369.20,195.20 369.40,188.00 370.00,158.90 370.60,188.00 370.90,192.00 371.50,161.80 372.10,192.00 373.10,185.00 373.70,156.30 374.30,185.00 374.90,195.20 375.50,158.10 376.10,195.20 376.70,190.00 377.30,152.30 377.90,190.00 378.60,183.00 379.20,168.40 379.80,183.00 381.80,195.20 382.40,164.00 383.00,195.20 383.90,187.00 384.50,162.00 385.10,187.00 385.90,193.00 386.50,158.90 387.10,193.00 388.80,195.20 389.40,149.70 390.00,195.20 390.40,188.00 391.00,162.00 391.60,188.00 392.40,192.00 393.00,160.00 393.60,192.00 394.60,185.00 395.20,168.40 395.80,185.00 397.50,195.20 398.10,166.90 398.70,195.20 398.60,190.00 399.20,177.80 399.80,190.00 400.40,183.00 401.00,185.00 401.60,183.00 402.90,195.20 403.50,180.00 404.10,195.20 406.20,187.00 406.80,177.10 407.40,187.00 409.40,193.00 410.00,183.00 410.60,193.00 412.40,195.20 413.00,186.00 413.60,195.20 416.10,188.00 416.70,166.90 417.30,188.00 418.40,192.00 419.00,180.00 419.60,192.00 421.20,185.00 421.80,184.40 422.40,185.00 422.90,195.20 423.50,186.00 424.10,195.20 425.20,190.00 425.80,172.00 426.40,190.00 427.40,183.00 428.00,182.00 428.60,183.00 431.00,195.20 431.60,173.50 432.20,195.20 432.90,187.00 433.50,180.00 434.10,187.00 435.80,193.00 436.40,169.80 437.00,193.00 437.50,156.00 439.00,145.70 440.00,120.00 440.30,60.00 440.80,25.00 441.40,20.90 442.00,25.00 442.30,60.00 442.50,120.00 443.40,140.50 444.50,159.00 445.20,168.30 446.50,171.40 447.10,195.20 447.70,173.40 448.30,195.20 449.70,186.00 450.30,170.90 450.90,186.00 450.90,192.00 451.50,178.00 452.10,192.00 452.80,195.20 453.40,175.00 454.00,195.20 454.40,195.20 455.00,182.00 455.60,195.20 455.90,186.00 456.50,169.30 457.10,186.00 457.40,192.00 458.00,186.00 458.60,192.00 459.40,195.20 460.00,190.00 460.60,195.20 464.10,195.20 464.70,179.10 465.30,195.20 461.00,195.20" fill="none" stroke="#2cd41c" stroke-width="1.1" stroke-opacity="0.85" stroke-linejoin="round"/>
<polyline points="470.80,195.2 471.40,184.20 472.00,195.2" fill="none" stroke="#3ad82a" stroke-width="1"/>
<polyline points="476.40,195.2 477.00,176.00 477.60,195.2" fill="none" stroke="#3ad82a" stroke-width="1"/>
<polyline points="478.20,195.2 478.80,181.00 479.40,195.2" fill="none" stroke="#3ad82a" stroke-width="1"/>
<polyline points="479.60,195.2 480.20,183.00 480.80,195.2" fill="none" stroke="#3ad82a" stroke-width="1"/>
<polyline points="484.90,195.2 485.50,188.90 486.10,195.2" fill="none" stroke="#3ad82a" stroke-width="1"/>
<polyline points="490.80,195.2 491.40,183.70 492.00,195.2" fill="none" stroke="#3ad82a" stroke-width="1"/>
<polyline points="499.90,195.2 500.50,184.20 501.10,195.2" fill="none" stroke="#3ad82a" stroke-width="1"/>
<polyline points="504.20,195.2 504.80,190.00 505.40,195.2" fill="none" stroke="#3ad82a" stroke-width="1"/>
<polyline points="516.70,195.2 517.30,181.30 517.90,195.2" fill="none" stroke="#3ad82a" stroke-width="1"/>
<polyline points="520.50,195.2 521.10,177.20 521.70,195.2" fill="none" stroke="#3ad82a" stroke-width="1"/>
<polyline points="536.90,195.2 537.50,189.00 538.10,195.2" fill="none" stroke="#3ad82a" stroke-width="1"/>
<polyline points="538.90,195.2 539.50,189.00 540.10,195.2" fill="none" stroke="#3ad82a" stroke-width="1"/>
<polyline points="541.40,195.2 542.00,191.00 542.60,195.2" fill="none" stroke="#3ad82a" stroke-width="1"/>
<line x1="365.79999999999995" y1="195.2" x2="619.40" y2="195.2" stroke="#3a3a3a" stroke-width="1.2"/>
<rect x="347.0" y="257.5" width="165.3" height="140.9" fill="#040406"/>
<text x="351.0" y="274.3" font-size="19" font-weight="bold" fill="#fff">c</text>
<defs><linearGradient id="fc" gradientUnits="userSpaceOnUse" x1="399" y1="276" x2="456" y2="360"><stop offset="0" stop-color="#a8304a"/><stop offset="0.45" stop-color="#b06080"/><stop offset="0.75" stop-color="#d8d0f0"/><stop offset="1" stop-color="#ffffff"/></linearGradient><linearGradient id="fd" gradientUnits="userSpaceOnUse" x1="545" y1="284" x2="660" y2="366"><stop offset="0" stop-color="#3a1414"/><stop offset="0.5" stop-color="#a03a20"/><stop offset="0.72" stop-color="#e07a20"/><stop offset="0.8" stop-color="#f0e040"/><stop offset="0.86" stop-color="#40e040"/><stop offset="1" stop-color="#30d030"/></linearGradient></defs>
<line x1="399.30" y1="276.70" x2="399.25" y2="277.06" stroke="rgb(150, 45, 65)" stroke-width="1.50" stroke-linecap="round"/>
<line x1="399.25" y1="277.06" x2="399.17" y2="277.53" stroke="rgb(150, 46, 66)" stroke-width="1.50" stroke-linecap="round"/>
<line x1="399.17" y1="277.53" x2="399.09" y2="278.09" stroke="rgb(151, 46, 67)" stroke-width="1.49" stroke-linecap="round"/>
<line x1="399.09" y1="278.09" x2="398.99" y2="278.72" stroke="rgb(151, 47, 68)" stroke-width="1.49" stroke-linecap="round"/>
<line x1="398.99" y1="278.72" x2="398.89" y2="279.40" stroke="rgb(152, 48, 69)" stroke-width="1.49" stroke-linecap="round"/>
<line x1="398.89" y1="279.40" x2="398.79" y2="280.12" stroke="rgb(152, 48, 70)" stroke-width="1.49" stroke-linecap="round"/>
<line x1="398.79" y1="280.12" x2="398.69" y2="280.86" stroke="rgb(152, 49, 71)" stroke-width="1.48" stroke-linecap="round"/>
<line x1="398.69" y1="280.86" x2="398.60" y2="281.60" stroke="rgb(153, 50, 71)" stroke-width="1.48" stroke-linecap="round"/>
<line x1="398.60" y1="281.60" x2="398.51" y2="282.37" stroke="rgb(153, 50, 72)" stroke-width="1.48" stroke-linecap="round"/>
<line x1="398.51" y1="282.37" x2="398.41" y2="283.18" stroke="rgb(154, 51, 73)" stroke-width="1.48" stroke-linecap="round"/>
<line x1="398.41" y1="283.18" x2="398.32" y2="284.04" stroke="rgb(154, 52, 74)" stroke-width="1.47" stroke-linecap="round"/>
<line x1="398.32" y1="284.04" x2="398.22" y2="284.93" stroke="rgb(154, 52, 75)" stroke-width="1.47" stroke-linecap="round"/>
<line x1="398.22" y1="284.93" x2="398.13" y2="285.82" stroke="rgb(155, 53, 76)" stroke-width="1.47" stroke-linecap="round"/>
<line x1="398.13" y1="285.82" x2="398.04" y2="286.73" stroke="rgb(155, 54, 77)" stroke-width="1.47" stroke-linecap="round"/>
<line x1="398.04" y1="286.73" x2="397.96" y2="287.62" stroke="rgb(156, 54, 78)" stroke-width="1.46" stroke-linecap="round"/>
<line x1="397.96" y1="287.62" x2="397.90" y2="288.50" stroke="rgb(156, 55, 79)" stroke-width="1.46" stroke-linecap="round"/>
<line x1="397.90" y1="288.50" x2="397.85" y2="289.36" stroke="rgb(156, 55, 80)" stroke-width="1.46" stroke-linecap="round"/>
<line x1="397.85" y1="289.36" x2="397.81" y2="290.23" stroke="rgb(157, 56, 81)" stroke-width="1.46" stroke-linecap="round"/>
<line x1="397.81" y1="290.23" x2="397.77" y2="291.10" stroke="rgb(157, 57, 82)" stroke-width="1.45" stroke-linecap="round"/>
<line x1="397.77" y1="291.10" x2="397.74" y2="291.97" stroke="rgb(157, 57, 82)" stroke-width="1.45" stroke-linecap="round"/>
<line x1="397.74" y1="291.97" x2="397.72" y2="292.83" stroke="rgb(158, 58, 83)" stroke-width="1.45" stroke-linecap="round"/>
<line x1="397.72" y1="292.83" x2="397.71" y2="293.70" stroke="rgb(158, 59, 84)" stroke-width="1.44" stroke-linecap="round"/>
<line x1="397.71" y1="293.70" x2="397.70" y2="294.55" stroke="rgb(159, 59, 85)" stroke-width="1.44" stroke-linecap="round"/>
<line x1="397.70" y1="294.55" x2="397.70" y2="295.40" stroke="rgb(159, 60, 86)" stroke-width="1.44" stroke-linecap="round"/>
<line x1="397.70" y1="295.40" x2="397.70" y2="296.25" stroke="rgb(159, 61, 87)" stroke-width="1.44" stroke-linecap="round"/>
<line x1="397.70" y1="296.25" x2="397.71" y2="297.09" stroke="rgb(160, 61, 88)" stroke-width="1.43" stroke-linecap="round"/>
<line x1="397.71" y1="297.09" x2="397.73" y2="297.94" stroke="rgb(160, 62, 89)" stroke-width="1.43" stroke-linecap="round"/>
<line x1="397.73" y1="297.94" x2="397.75" y2="298.77" stroke="rgb(161, 63, 90)" stroke-width="1.43" stroke-linecap="round"/>
<line x1="397.75" y1="298.77" x2="397.78" y2="299.60" stroke="rgb(161, 63, 91)" stroke-width="1.43" stroke-linecap="round"/>
<line x1="397.78" y1="299.60" x2="397.81" y2="300.42" stroke="rgb(161, 64, 92)" stroke-width="1.42" stroke-linecap="round"/>
<line x1="397.81" y1="300.42" x2="397.85" y2="301.22" stroke="rgb(162, 65, 93)" stroke-width="1.42" stroke-linecap="round"/>
<line x1="397.85" y1="301.22" x2="397.90" y2="302.00" stroke="rgb(162, 65, 93)" stroke-width="1.42" stroke-linecap="round"/>
<line x1="397.90" y1="302.00" x2="397.95" y2="302.74" stroke="rgb(163, 66, 94)" stroke-width="1.42" stroke-linecap="round"/>
<line x1="397.95" y1="302.74" x2="397.99" y2="303.44" stroke="rgb(163, 67, 95)" stroke-width="1.41" stroke-linecap="round"/>
<line x1="397.99" y1="303.44" x2="398.04" y2="304.12" stroke="rgb(163, 67, 96)" stroke-width="1.41" stroke-linecap="round"/>
<line x1="398.04" y1="304.12" x2="398.09" y2="304.78" stroke="rgb(164, 68, 97)" stroke-width="1.41" stroke-linecap="round"/>
<line x1="398.09" y1="304.78" x2="398.16" y2="305.46" stroke="rgb(164, 69, 98)" stroke-width="1.41" stroke-linecap="round"/>
<line x1="398.16" y1="305.46" x2="398.25" y2="306.16" stroke="rgb(165, 69, 99)" stroke-width="1.40" stroke-linecap="round"/>
<line x1="398.25" y1="306.16" x2="398.36" y2="306.90" stroke="rgb(165, 70, 100)" stroke-width="1.40" stroke-linecap="round"/>
<line x1="398.36" y1="306.90" x2="398.50" y2="307.70" stroke="rgb(166, 72, 103)" stroke-width="1.40" stroke-linecap="round"/>
<line x1="398.50" y1="307.70" x2="398.67" y2="308.57" stroke="rgb(167, 75, 106)" stroke-width="1.40" stroke-linecap="round"/>
<line x1="398.67" y1="308.57" x2="398.86" y2="309.50" stroke="rgb(168, 78, 110)" stroke-width="1.40" stroke-linecap="round"/>
<line x1="398.86" y1="309.50" x2="399.08" y2="310.48" stroke="rgb(169, 81, 113)" stroke-width="1.40" stroke-linecap="round"/>
<line x1="399.08" y1="310.48" x2="399.32" y2="311.47" stroke="rgb(170, 84, 116)" stroke-width="1.40" stroke-linecap="round"/>
<line x1="399.32" y1="311.47" x2="399.57" y2="312.48" stroke="rgb(171, 86, 120)" stroke-width="1.40" stroke-linecap="round"/>
<line x1="399.57" y1="312.48" x2="399.84" y2="313.48" stroke="rgb(172, 89, 123)" stroke-width="1.40" stroke-linecap="round"/>
<line x1="399.84" y1="313.48" x2="400.12" y2="314.46" stroke="rgb(173, 92, 126)" stroke-width="1.40" stroke-linecap="round"/>
<line x1="400.12" y1="314.46" x2="400.40" y2="315.40" stroke="rgb(174, 95, 130)" stroke-width="1.40" stroke-linecap="round"/>
<line x1="400.40" y1="315.40" x2="400.69" y2="316.31" stroke="rgb(175, 97, 133)" stroke-width="1.40" stroke-linecap="round"/>
<line x1="400.69" y1="316.31" x2="401.00" y2="317.20" stroke="rgb(176, 100, 136)" stroke-width="1.40" stroke-linecap="round"/>
<line x1="401.00" y1="317.20" x2="401.32" y2="318.08" stroke="rgb(177, 103, 140)" stroke-width="1.40" stroke-linecap="round"/>
<line x1="401.32" y1="318.08" x2="401.65" y2="318.94" stroke="rgb(178, 106, 143)" stroke-width="1.40" stroke-linecap="round"/>
<line x1="401.65" y1="318.94" x2="401.99" y2="319.80" stroke="rgb(179, 108, 147)" stroke-width="1.40" stroke-linecap="round"/>
<line x1="401.99" y1="319.80" x2="402.35" y2="320.64" stroke="rgb(180, 111, 150)" stroke-width="1.40" stroke-linecap="round"/>
<line x1="402.35" y1="320.64" x2="402.72" y2="321.48" stroke="rgb(181, 114, 153)" stroke-width="1.40" stroke-linecap="round"/>
<line x1="402.72" y1="321.48" x2="403.10" y2="322.30" stroke="rgb(182, 117, 157)" stroke-width="1.40" stroke-linecap="round"/>
<line x1="403.10" y1="322.30" x2="403.49" y2="323.11" stroke="rgb(183, 119, 160)" stroke-width="1.40" stroke-linecap="round"/>
<line x1="403.49" y1="323.11" x2="403.90" y2="323.92" stroke="rgb(184, 122, 163)" stroke-width="1.40" stroke-linecap="round"/>
<line x1="403.90" y1="323.92" x2="404.32" y2="324.71" stroke="rgb(185, 125, 167)" stroke-width="1.40" stroke-linecap="round"/>
<line x1="404.32" y1="324.71" x2="404.76" y2="325.49" stroke="rgb(186, 128, 170)" stroke-width="1.40" stroke-linecap="round"/>
<line x1="404.76" y1="325.49" x2="405.20" y2="326.26" stroke="rgb(187, 130, 173)" stroke-width="1.40" stroke-linecap="round"/>
<line x1="405.20" y1="326.26" x2="405.66" y2="327.02" stroke="rgb(188, 133, 177)" stroke-width="1.40" stroke-linecap="round"/>
<line x1="405.66" y1="327.02" x2="406.12" y2="327.77" stroke="rgb(189, 136, 180)" stroke-width="1.40" stroke-linecap="round"/>
<line x1="406.12" y1="327.77" x2="406.60" y2="328.50" stroke="rgb(190, 139, 183)" stroke-width="1.40" stroke-linecap="round"/>
<line x1="406.60" y1="328.50" x2="407.08" y2="329.21" stroke="rgb(191, 141, 186)" stroke-width="1.41" stroke-linecap="round"/>
<line x1="407.08" y1="329.21" x2="407.57" y2="329.91" stroke="rgb(192, 144, 188)" stroke-width="1.42" stroke-linecap="round"/>
<line x1="407.57" y1="329.91" x2="408.07" y2="330.58" stroke="rgb(193, 147, 190)" stroke-width="1.43" stroke-linecap="round"/>
<line x1="408.07" y1="330.58" x2="408.58" y2="331.25" stroke="rgb(195, 150, 193)" stroke-width="1.44" stroke-linecap="round"/>
<line x1="408.58" y1="331.25" x2="409.11" y2="331.91" stroke="rgb(196, 152, 195)" stroke-width="1.45" stroke-linecap="round"/>
<line x1="409.11" y1="331.91" x2="409.65" y2="332.57" stroke="rgb(198, 155, 197)" stroke-width="1.46" stroke-linecap="round"/>
<line x1="409.65" y1="332.57" x2="410.21" y2="333.23" stroke="rgb(199, 158, 199)" stroke-width="1.48" stroke-linecap="round"/>
<line x1="410.21" y1="333.23" x2="410.80" y2="333.90" stroke="rgb(200, 161, 201)" stroke-width="1.49" stroke-linecap="round"/>
<line x1="410.80" y1="333.90" x2="411.41" y2="334.58" stroke="rgb(202, 163, 203)" stroke-width="1.50" stroke-linecap="round"/>
<line x1="411.41" y1="334.58" x2="412.05" y2="335.27" stroke="rgb(203, 166, 206)" stroke-width="1.51" stroke-linecap="round"/>
<line x1="412.05" y1="335.27" x2="412.70" y2="335.96" stroke="rgb(204, 169, 208)" stroke-width="1.52" stroke-linecap="round"/>
<line x1="412.70" y1="335.96" x2="413.38" y2="336.65" stroke="rgb(206, 172, 210)" stroke-width="1.54" stroke-linecap="round"/>
<line x1="413.38" y1="336.65" x2="414.06" y2="337.33" stroke="rgb(207, 174, 212)" stroke-width="1.55" stroke-linecap="round"/>
<line x1="414.06" y1="337.33" x2="414.77" y2="338.01" stroke="rgb(209, 177, 214)" stroke-width="1.56" stroke-linecap="round"/>
<line x1="414.77" y1="338.01" x2="415.48" y2="338.66" stroke="rgb(210, 180, 216)" stroke-width="1.57" stroke-linecap="round"/>
<line x1="415.48" y1="338.66" x2="416.20" y2="339.30" stroke="rgb(211, 183, 219)" stroke-width="1.58" stroke-linecap="round"/>
<line x1="416.20" y1="339.30" x2="416.94" y2="339.92" stroke="rgb(213, 185, 221)" stroke-width="1.59" stroke-linecap="round"/>
<line x1="416.94" y1="339.92" x2="417.70" y2="340.52" stroke="rgb(214, 188, 223)" stroke-width="1.61" stroke-linecap="round"/>
<line x1="417.70" y1="340.52" x2="418.47" y2="341.11" stroke="rgb(215, 191, 225)" stroke-width="1.62" stroke-linecap="round"/>
<line x1="418.47" y1="341.11" x2="419.26" y2="341.69" stroke="rgb(217, 194, 227)" stroke-width="1.63" stroke-linecap="round"/>
<line x1="419.26" y1="341.69" x2="420.05" y2="342.26" stroke="rgb(218, 196, 229)" stroke-width="1.64" stroke-linecap="round"/>
<line x1="420.05" y1="342.26" x2="420.84" y2="342.82" stroke="rgb(220, 199, 232)" stroke-width="1.65" stroke-linecap="round"/>
<line x1="420.84" y1="342.82" x2="421.62" y2="343.36" stroke="rgb(221, 202, 234)" stroke-width="1.67" stroke-linecap="round"/>
<line x1="421.62" y1="343.36" x2="422.40" y2="343.90" stroke="rgb(222, 205, 236)" stroke-width="1.68" stroke-linecap="round"/>
<line x1="422.40" y1="343.90" x2="423.17" y2="344.42" stroke="rgb(224, 208, 238)" stroke-width="1.69" stroke-linecap="round"/>
<line x1="423.17" y1="344.42" x2="423.93" y2="344.94" stroke="rgb(225, 210, 240)" stroke-width="1.70" stroke-linecap="round"/>
<line x1="423.93" y1="344.94" x2="424.69" y2="345.44" stroke="rgb(226, 212, 241)" stroke-width="1.72" stroke-linecap="round"/>
<line x1="424.69" y1="345.44" x2="425.45" y2="345.92" stroke="rgb(227, 213, 241)" stroke-width="1.74" stroke-linecap="round"/>
<line x1="425.45" y1="345.92" x2="426.21" y2="346.40" stroke="rgb(228, 215, 242)" stroke-width="1.75" stroke-linecap="round"/>
<line x1="426.21" y1="346.40" x2="426.97" y2="346.88" stroke="rgb(229, 217, 243)" stroke-width="1.77" stroke-linecap="round"/>
<line x1="426.97" y1="346.88" x2="427.73" y2="347.34" stroke="rgb(231, 218, 243)" stroke-width="1.79" stroke-linecap="round"/>
<line x1="427.73" y1="347.34" x2="428.50" y2="347.80" stroke="rgb(232, 220, 244)" stroke-width="1.81" stroke-linecap="round"/>
<line x1="428.50" y1="347.80" x2="429.28" y2="348.25" stroke="rgb(233, 222, 245)" stroke-width="1.82" stroke-linecap="round"/>
<line x1="429.28" y1="348.25" x2="430.06" y2="348.70" stroke="rgb(234, 223, 245)" stroke-width="1.84" stroke-linecap="round"/>
<line x1="430.06" y1="348.70" x2="430.86" y2="349.14" stroke="rgb(235, 225, 246)" stroke-width="1.86" stroke-linecap="round"/>
<line x1="430.86" y1="349.14" x2="431.65" y2="349.57" stroke="rgb(236, 227, 247)" stroke-width="1.88" stroke-linecap="round"/>
<line x1="431.65" y1="349.57" x2="432.44" y2="350.00" stroke="rgb(237, 228, 247)" stroke-width="1.89" stroke-linecap="round"/>
<line x1="432.44" y1="350.00" x2="433.21" y2="350.41" stroke="rgb(238, 230, 248)" stroke-width="1.91" stroke-linecap="round"/>
<line x1="433.21" y1="350.41" x2="433.97" y2="350.81" stroke="rgb(239, 232, 249)" stroke-width="1.93" stroke-linecap="round"/>
<line x1="433.97" y1="350.81" x2="434.70" y2="351.20" stroke="rgb(240, 233, 249)" stroke-width="1.95" stroke-linecap="round"/>
<line x1="434.70" y1="351.20" x2="435.38" y2="351.56" stroke="rgb(242, 235, 250)" stroke-width="1.96" stroke-linecap="round"/>
<line x1="435.38" y1="351.56" x2="436.01" y2="351.90" stroke="rgb(243, 237, 251)" stroke-width="1.98" stroke-linecap="round"/>
<line x1="436.01" y1="351.90" x2="436.60" y2="352.22" stroke="rgb(244, 238, 251)" stroke-width="2.00" stroke-linecap="round"/>
<line x1="436.60" y1="352.22" x2="437.19" y2="352.53" stroke="rgb(245, 240, 252)" stroke-width="2.02" stroke-linecap="round"/>
<line x1="437.19" y1="352.53" x2="437.80" y2="352.85" stroke="rgb(246, 242, 253)" stroke-width="2.03" stroke-linecap="round"/>
<line x1="437.80" y1="352.85" x2="438.46" y2="353.17" stroke="rgb(247, 243, 253)" stroke-width="2.05" stroke-linecap="round"/>
<line x1="438.46" y1="353.17" x2="439.18" y2="353.52" stroke="rgb(248, 245, 254)" stroke-width="2.07" stroke-linecap="round"/>
<line x1="439.18" y1="353.52" x2="440.00" y2="353.90" stroke="rgb(249, 247, 255)" stroke-width="2.09" stroke-linecap="round"/>
<line x1="440.00" y1="353.90" x2="440.94" y2="354.33" stroke="rgb(250, 248, 255)" stroke-width="2.10" stroke-linecap="round"/>
<line x1="440.94" y1="354.33" x2="441.98" y2="354.80" stroke="rgb(250, 249, 255)" stroke-width="2.12" stroke-linecap="round"/>
<line x1="441.98" y1="354.80" x2="443.09" y2="355.31" stroke="rgb(251, 249, 255)" stroke-width="2.13" stroke-linecap="round"/>
<line x1="443.09" y1="355.31" x2="444.25" y2="355.82" stroke="rgb(251, 249, 255)" stroke-width="2.14" stroke-linecap="round"/>
<line x1="444.25" y1="355.82" x2="445.42" y2="356.32" stroke="rgb(251, 250, 255)" stroke-width="2.16" stroke-linecap="round"/>
<line x1="445.42" y1="356.32" x2="446.57" y2="356.80" stroke="rgb(252, 250, 255)" stroke-width="2.17" stroke-linecap="round"/>
<line x1="446.57" y1="356.80" x2="447.68" y2="357.23" stroke="rgb(252, 251, 255)" stroke-width="2.18" stroke-linecap="round"/>
<line x1="447.68" y1="357.23" x2="448.70" y2="357.60" stroke="rgb(252, 251, 255)" stroke-width="2.20" stroke-linecap="round"/>
<line x1="448.70" y1="357.60" x2="449.70" y2="357.91" stroke="rgb(253, 252, 255)" stroke-width="2.21" stroke-linecap="round"/>
<line x1="449.70" y1="357.91" x2="450.71" y2="358.19" stroke="rgb(253, 252, 255)" stroke-width="2.22" stroke-linecap="round"/>
<line x1="450.71" y1="358.19" x2="451.72" y2="358.42" stroke="rgb(253, 253, 255)" stroke-width="2.23" stroke-linecap="round"/>
<line x1="451.72" y1="358.42" x2="452.69" y2="358.63" stroke="rgb(254, 253, 255)" stroke-width="2.25" stroke-linecap="round"/>
<line x1="452.69" y1="358.63" x2="453.60" y2="358.81" stroke="rgb(254, 254, 255)" stroke-width="2.26" stroke-linecap="round"/>
<line x1="453.60" y1="358.81" x2="454.40" y2="358.96" stroke="rgb(254, 254, 255)" stroke-width="2.27" stroke-linecap="round"/>
<line x1="454.40" y1="358.96" x2="455.08" y2="359.09" stroke="rgb(255, 255, 255)" stroke-width="2.29" stroke-linecap="round"/>
<line x1="455.08" y1="359.09" x2="455.60" y2="359.20" stroke="rgb(255, 255, 255)" stroke-width="2.30" stroke-linecap="round"/>
<circle cx="399.3" cy="276.7" r="1.1" fill="#d8a8b0"/>
<line x1="444.3" y1="350" x2="444.3" y2="372" stroke="#5a5a60" stroke-width="1.2" opacity="0.45"/>
<line x1="413" y1="277.1" x2="435.2" y2="277.1" stroke="#d0141c" stroke-width="2"/>
<path d="M404.9,277.1 L414.2,272.9 L414.2,281.3 Z" fill="#d0141c"/>
<text x="444.3" y="281.4" font-size="12.8" fill="#fff">Output</text>
<text x="468.4" y="335" font-size="12.6" fill="#fff">Input</text>
<text x="351.2" y="363.7" font-size="12.8" fill="#fff">Microwire</text>
<line x1="379.10" y1="351.60" x2="393.63" y2="331.29" stroke="#f4f4f4" stroke-width="1.6"/><path d="M397.70,325.60 L396.43,333.91 L390.25,329.49 Z" fill="#f4f4f4"/>
<line x1="91.80" y1="294.50" x2="83.02" y2="311.05" stroke="#111" stroke-width="1.4"/><path d="M78.80,319.00 L79.45,308.59 L87.05,312.62 Z" fill="#111"/>
<line x1="490.00" y1="346.10" x2="463.88" y2="361.03" stroke="#f4f4f4" stroke-width="1.6"/><path d="M457.80,364.50 L462.43,357.48 L466.20,364.08 Z" fill="#f4f4f4"/>
<rect x="358.9" y="389.5" width="35.7" height="2.7" fill="#f4f4f4"/>
<rect x="519.3" y="257.4" width="165.7" height="140.9" fill="#020302"/>
<text x="524.4" y="274.1" font-size="19" font-weight="bold" fill="#fff">d</text>
<defs><filter id="bl3" x="-50%" y="-50%" width="200%" height="200%"><feGaussianBlur stdDeviation="1.2"/></filter><linearGradient id="gsc" x1="0" y1="0" x2="0" y2="1"><stop offset="0" stop-color="#1a6a1a" stop-opacity="0.1"/><stop offset="0.4" stop-color="#22902a" stop-opacity="0.45"/><stop offset="0.6" stop-color="#2ab02a" stop-opacity="0.85"/><stop offset="0.8" stop-color="#25a025" stop-opacity="0.5"/><stop offset="1" stop-color="#1a6a1a" stop-opacity="0.12"/></linearGradient></defs>
<rect x="626.0" y="331" width="4.6" height="51" fill="url(#gsc)" filter="url(#bl3)"/>
<rect x="628.10" y="362.90" width="0.8" height="0.8" fill="#40d040" opacity="0.97"/>
<rect x="626.24" y="378.24" width="0.8" height="0.8" fill="#40d040" opacity="0.42"/>
<rect x="628.44" y="368.52" width="0.8" height="0.8" fill="#40d040" opacity="0.77"/>
<rect x="628.07" y="355.35" width="0.8" height="0.8" fill="#40d040" opacity="0.76"/>
<rect x="626.80" y="378.28" width="0.8" height="0.8" fill="#40d040" opacity="0.42"/>
<rect x="626.30" y="338.43" width="0.8" height="0.8" fill="#40d040" opacity="0.25"/>
<rect x="628.23" y="355.52" width="0.8" height="0.8" fill="#40d040" opacity="0.77"/>
<rect x="629.58" y="360.55" width="0.8" height="0.8" fill="#40d040" opacity="0.95"/>
<rect x="628.38" y="333.63" width="0.8" height="0.8" fill="#40d040" opacity="0.25"/>
<rect x="629.07" y="376.98" width="0.8" height="0.8" fill="#40d040" opacity="0.46"/>
<rect x="629.26" y="369.75" width="0.8" height="0.8" fill="#40d040" opacity="0.72"/>
<rect x="629.86" y="339.66" width="0.8" height="0.8" fill="#40d040" opacity="0.25"/>
<rect x="628.25" y="362.64" width="0.8" height="0.8" fill="#40d040" opacity="0.98"/>
<rect x="628.25" y="374.83" width="0.8" height="0.8" fill="#40d040" opacity="0.54"/>
<rect x="628.87" y="343.05" width="0.8" height="0.8" fill="#40d040" opacity="0.32"/>
<rect x="631.25" y="374.88" width="0.8" height="0.8" fill="#40d040" opacity="0.54"/>
<rect x="629.53" y="346.89" width="0.8" height="0.8" fill="#40d040" opacity="0.46"/>
<rect x="627.87" y="365.54" width="0.8" height="0.8" fill="#40d040" opacity="0.87"/>
<rect x="629.77" y="342.83" width="0.8" height="0.8" fill="#40d040" opacity="0.32"/>
<rect x="627.59" y="379.40" width="0.8" height="0.8" fill="#40d040" opacity="0.38"/>
<rect x="627.89" y="375.90" width="0.8" height="0.8" fill="#40d040" opacity="0.50"/>
<rect x="629.19" y="340.97" width="0.8" height="0.8" fill="#40d040" opacity="0.25"/>
<rect x="629.05" y="339.99" width="0.8" height="0.8" fill="#40d040" opacity="0.25"/>
<rect x="628.57" y="361.95" width="0.8" height="0.8" fill="#40d040" opacity="1.00"/>
<rect x="627.76" y="333.16" width="0.8" height="0.8" fill="#40d040" opacity="0.25"/>
<rect x="627.30" y="347.88" width="0.8" height="0.8" fill="#40d040" opacity="0.50"/>
<rect x="627.25" y="372.29" width="0.8" height="0.8" fill="#40d040" opacity="0.63"/>
<rect x="628.32" y="356.10" width="0.8" height="0.8" fill="#40d040" opacity="0.79"/>
<rect x="631.00" y="366.82" width="0.8" height="0.8" fill="#40d040" opacity="0.83"/>
<rect x="629.25" y="334.10" width="0.8" height="0.8" fill="#40d040" opacity="0.25"/>
<rect x="628.32" y="368.99" width="0.8" height="0.8" fill="#40d040" opacity="0.75"/>
<rect x="628.03" y="370.81" width="0.8" height="0.8" fill="#40d040" opacity="0.69"/>
<rect x="628.07" y="350.58" width="0.8" height="0.8" fill="#40d040" opacity="0.59"/>
<rect x="628.13" y="335.24" width="0.8" height="0.8" fill="#40d040" opacity="0.25"/>
<rect x="628.90" y="341.68" width="0.8" height="0.8" fill="#40d040" opacity="0.27"/>
<rect x="628.00" y="369.28" width="0.8" height="0.8" fill="#40d040" opacity="0.74"/>
<rect x="629.14" y="377.62" width="0.8" height="0.8" fill="#40d040" opacity="0.44"/>
<rect x="627.84" y="350.03" width="0.8" height="0.8" fill="#40d040" opacity="0.57"/>
<rect x="628.28" y="358.19" width="0.8" height="0.8" fill="#40d040" opacity="0.86"/>
<rect x="627.68" y="368.92" width="0.8" height="0.8" fill="#40d040" opacity="0.75"/>
<rect x="628.39" y="371.27" width="0.8" height="0.8" fill="#40d040" opacity="0.67"/>
<rect x="627.97" y="378.40" width="0.8" height="0.8" fill="#40d040" opacity="0.41"/>
<rect x="627.38" y="337.38" width="0.8" height="0.8" fill="#40d040" opacity="0.25"/>
<rect x="629.47" y="377.07" width="0.8" height="0.8" fill="#40d040" opacity="0.46"/>
<rect x="629.43" y="349.32" width="0.8" height="0.8" fill="#40d040" opacity="0.55"/>
<rect x="627.57" y="348.00" width="0.8" height="0.8" fill="#40d040" opacity="0.50"/>
<rect x="628.40" y="348.21" width="0.8" height="0.8" fill="#40d040" opacity="0.51"/>
<rect x="628.60" y="340.15" width="0.8" height="0.8" fill="#40d040" opacity="0.25"/>
<rect x="628.85" y="366.08" width="0.8" height="0.8" fill="#40d040" opacity="0.85"/>
<rect x="628.19" y="335.33" width="0.8" height="0.8" fill="#40d040" opacity="0.25"/>
<rect x="627.10" y="380.36" width="0.8" height="0.8" fill="#40d040" opacity="0.34"/>
<rect x="627.97" y="344.39" width="0.8" height="0.8" fill="#40d040" opacity="0.37"/>
<rect x="628.76" y="361.51" width="0.8" height="0.8" fill="#40d040" opacity="0.98"/>
<rect x="627.12" y="353.24" width="0.8" height="0.8" fill="#40d040" opacity="0.69"/>
<rect x="628.45" y="335.67" width="0.8" height="0.8" fill="#40d040" opacity="0.25"/>
<rect x="628.06" y="356.69" width="0.8" height="0.8" fill="#40d040" opacity="0.81"/>
<rect x="629.42" y="373.24" width="0.8" height="0.8" fill="#40d040" opacity="0.60"/>
<rect x="629.51" y="378.59" width="0.8" height="0.8" fill="#40d040" opacity="0.41"/>
<rect x="628.32" y="363.26" width="0.8" height="0.8" fill="#40d040" opacity="0.96"/>
<rect x="627.69" y="353.86" width="0.8" height="0.8" fill="#40d040" opacity="0.71"/>
<rect x="628.72" y="340.16" width="0.8" height="0.8" fill="#40d040" opacity="0.25"/>
<rect x="627.44" y="354.75" width="0.8" height="0.8" fill="#40d040" opacity="0.74"/>
<rect x="630.00" y="380.97" width="0.8" height="0.8" fill="#40d040" opacity="0.32"/>
<rect x="625.79" y="354.77" width="0.8" height="0.8" fill="#40d040" opacity="0.74"/>
<rect x="628.04" y="356.43" width="0.8" height="0.8" fill="#40d040" opacity="0.80"/>
<rect x="626.95" y="346.97" width="0.8" height="0.8" fill="#40d040" opacity="0.46"/>
<rect x="628.85" y="352.38" width="0.8" height="0.8" fill="#40d040" opacity="0.66"/>
<rect x="629.05" y="380.44" width="0.8" height="0.8" fill="#40d040" opacity="0.34"/>
<rect x="627.30" y="379.07" width="0.8" height="0.8" fill="#40d040" opacity="0.39"/>
<rect x="627.27" y="349.25" width="0.8" height="0.8" fill="#40d040" opacity="0.54"/>
<line x1="545.60" y1="284.20" x2="545.96" y2="285.09" stroke="rgb(40, 14, 14)" stroke-width="1.30" stroke-linecap="round"/>
<line x1="545.96" y1="285.09" x2="546.44" y2="286.28" stroke="rgb(41, 14, 14)" stroke-width="1.30" stroke-linecap="round"/>
<line x1="546.44" y1="286.28" x2="547.00" y2="287.70" stroke="rgb(42, 15, 14)" stroke-width="1.30" stroke-linecap="round"/>
<line x1="547.00" y1="287.70" x2="547.63" y2="289.27" stroke="rgb(43, 15, 15)" stroke-width="1.30" stroke-linecap="round"/>
<line x1="547.63" y1="289.27" x2="548.30" y2="290.91" stroke="rgb(44, 15, 15)" stroke-width="1.30" stroke-linecap="round"/>
<line x1="548.30" y1="290.91" x2="548.99" y2="292.55" stroke="rgb(45, 15, 15)" stroke-width="1.30" stroke-linecap="round"/>
<line x1="548.99" y1="292.55" x2="549.66" y2="294.11" stroke="rgb(46, 16, 15)" stroke-width="1.30" stroke-linecap="round"/>
<line x1="549.66" y1="294.11" x2="550.30" y2="295.50" stroke="rgb(47, 16, 15)" stroke-width="1.30" stroke-linecap="round"/>
<line x1="550.30" y1="295.50" x2="550.92" y2="296.77" stroke="rgb(48, 16, 16)" stroke-width="1.30" stroke-linecap="round"/>
<line x1="550.92" y1="296.77" x2="551.55" y2="297.99" stroke="rgb(49, 16, 16)" stroke-width="1.30" stroke-linecap="round"/>
<line x1="551.55" y1="297.99" x2="552.18" y2="299.18" stroke="rgb(49, 17, 16)" stroke-width="1.30" stroke-linecap="round"/>
<line x1="552.18" y1="299.18" x2="552.83" y2="300.34" stroke="rgb(50, 17, 16)" stroke-width="1.30" stroke-linecap="round"/>
<line x1="552.83" y1="300.34" x2="553.47" y2="301.48" stroke="rgb(51, 17, 16)" stroke-width="1.30" stroke-linecap="round"/>
<line x1="553.47" y1="301.48" x2="554.12" y2="302.60" stroke="rgb(52, 17, 16)" stroke-width="1.30" stroke-linecap="round"/>
<line x1="554.12" y1="302.60" x2="554.76" y2="303.70" stroke="rgb(53, 18, 17)" stroke-width="1.30" stroke-linecap="round"/>
<line x1="554.76" y1="303.70" x2="555.40" y2="304.80" stroke="rgb(54, 18, 17)" stroke-width="1.30" stroke-linecap="round"/>
<line x1="555.40" y1="304.80" x2="556.03" y2="305.88" stroke="rgb(55, 18, 17)" stroke-width="1.30" stroke-linecap="round"/>
<line x1="556.03" y1="305.88" x2="556.65" y2="306.93" stroke="rgb(56, 18, 17)" stroke-width="1.30" stroke-linecap="round"/>
<line x1="556.65" y1="306.93" x2="557.26" y2="307.96" stroke="rgb(57, 19, 17)" stroke-width="1.30" stroke-linecap="round"/>
<line x1="557.26" y1="307.96" x2="557.88" y2="308.97" stroke="rgb(58, 19, 18)" stroke-width="1.30" stroke-linecap="round"/>
<line x1="557.88" y1="308.97" x2="558.51" y2="309.97" stroke="rgb(59, 19, 18)" stroke-width="1.30" stroke-linecap="round"/>
<line x1="558.51" y1="309.97" x2="559.15" y2="310.98" stroke="rgb(60, 19, 18)" stroke-width="1.30" stroke-linecap="round"/>
<line x1="559.15" y1="310.98" x2="559.81" y2="311.98" stroke="rgb(61, 20, 18)" stroke-width="1.30" stroke-linecap="round"/>
<line x1="559.81" y1="311.98" x2="560.50" y2="313.00" stroke="rgb(62, 20, 18)" stroke-width="1.30" stroke-linecap="round"/>
<line x1="560.50" y1="313.00" x2="561.22" y2="314.03" stroke="rgb(63, 20, 19)" stroke-width="1.30" stroke-linecap="round"/>
<line x1="561.22" y1="314.03" x2="561.95" y2="315.07" stroke="rgb(64, 20, 19)" stroke-width="1.30" stroke-linecap="round"/>
<line x1="561.95" y1="315.07" x2="562.70" y2="316.12" stroke="rgb(65, 21, 19)" stroke-width="1.30" stroke-linecap="round"/>
<line x1="562.70" y1="316.12" x2="563.47" y2="317.16" stroke="rgb(66, 21, 19)" stroke-width="1.30" stroke-linecap="round"/>
<line x1="563.47" y1="317.16" x2="564.25" y2="318.20" stroke="rgb(66, 21, 19)" stroke-width="1.30" stroke-linecap="round"/>
<line x1="564.25" y1="318.20" x2="565.05" y2="319.22" stroke="rgb(67, 21, 19)" stroke-width="1.30" stroke-linecap="round"/>
<line x1="565.05" y1="319.22" x2="565.87" y2="320.22" stroke="rgb(68, 22, 20)" stroke-width="1.30" stroke-linecap="round"/>
<line x1="565.87" y1="320.22" x2="566.70" y2="321.20" stroke="rgb(69, 22, 20)" stroke-width="1.30" stroke-linecap="round"/>
<line x1="566.70" y1="321.20" x2="567.55" y2="322.15" stroke="rgb(70, 22, 20)" stroke-width="1.30" stroke-linecap="round"/>
<line x1="567.55" y1="322.15" x2="568.43" y2="323.07" stroke="rgb(72, 23, 20)" stroke-width="1.30" stroke-linecap="round"/>
<line x1="568.43" y1="323.07" x2="569.33" y2="323.97" stroke="rgb(74, 23, 21)" stroke-width="1.31" stroke-linecap="round"/>
<line x1="569.33" y1="323.97" x2="570.24" y2="324.86" stroke="rgb(76, 24, 21)" stroke-width="1.31" stroke-linecap="round"/>
<line x1="570.24" y1="324.86" x2="571.16" y2="325.74" stroke="rgb(78, 24, 22)" stroke-width="1.32" stroke-linecap="round"/>
<line x1="571.16" y1="325.74" x2="572.08" y2="326.62" stroke="rgb(80, 25, 22)" stroke-width="1.32" stroke-linecap="round"/>
<line x1="572.08" y1="326.62" x2="572.99" y2="327.51" stroke="rgb(82, 25, 22)" stroke-width="1.32" stroke-linecap="round"/>
<line x1="572.99" y1="327.51" x2="573.90" y2="328.40" stroke="rgb(84, 26, 23)" stroke-width="1.33" stroke-linecap="round"/>
<line x1="573.90" y1="328.40" x2="574.79" y2="329.31" stroke="rgb(86, 26, 23)" stroke-width="1.33" stroke-linecap="round"/>
<line x1="574.79" y1="329.31" x2="575.68" y2="330.23" stroke="rgb(88, 27, 24)" stroke-width="1.34" stroke-linecap="round"/>
<line x1="575.68" y1="330.23" x2="576.56" y2="331.15" stroke="rgb(90, 27, 24)" stroke-width="1.34" stroke-linecap="round"/>
<line x1="576.56" y1="331.15" x2="577.44" y2="332.07" stroke="rgb(92, 28, 24)" stroke-width="1.34" stroke-linecap="round"/>
<line x1="577.44" y1="332.07" x2="578.33" y2="332.98" stroke="rgb(94, 28, 25)" stroke-width="1.35" stroke-linecap="round"/>
<line x1="578.33" y1="332.98" x2="579.23" y2="333.88" stroke="rgb(96, 29, 25)" stroke-width="1.35" stroke-linecap="round"/>
<line x1="579.23" y1="333.88" x2="580.15" y2="334.75" stroke="rgb(98, 29, 26)" stroke-width="1.36" stroke-linecap="round"/>
<line x1="580.15" y1="334.75" x2="581.10" y2="335.60" stroke="rgb(100, 30, 26)" stroke-width="1.36" stroke-linecap="round"/>
<line x1="581.10" y1="335.60" x2="582.08" y2="336.41" stroke="rgb(102, 30, 26)" stroke-width="1.36" stroke-linecap="round"/>
<line x1="582.08" y1="336.41" x2="583.08" y2="337.20" stroke="rgb(104, 31, 27)" stroke-width="1.37" stroke-linecap="round"/>
<line x1="583.08" y1="337.20" x2="584.10" y2="337.96" stroke="rgb(106, 31, 27)" stroke-width="1.37" stroke-linecap="round"/>
<line x1="584.10" y1="337.96" x2="585.14" y2="338.71" stroke="rgb(108, 32, 28)" stroke-width="1.38" stroke-linecap="round"/>
<line x1="585.14" y1="338.71" x2="586.18" y2="339.45" stroke="rgb(110, 32, 28)" stroke-width="1.38" stroke-linecap="round"/>
<line x1="586.18" y1="339.45" x2="587.23" y2="340.19" stroke="rgb(112, 33, 28)" stroke-width="1.38" stroke-linecap="round"/>
<line x1="587.23" y1="340.19" x2="588.27" y2="340.94" stroke="rgb(114, 33, 29)" stroke-width="1.39" stroke-linecap="round"/>
<line x1="588.27" y1="340.94" x2="589.30" y2="341.70" stroke="rgb(116, 34, 29)" stroke-width="1.39" stroke-linecap="round"/>
<line x1="589.30" y1="341.70" x2="590.32" y2="342.48" stroke="rgb(118, 34, 30)" stroke-width="1.40" stroke-linecap="round"/>
<line x1="590.32" y1="342.48" x2="591.35" y2="343.27" stroke="rgb(120, 35, 30)" stroke-width="1.40" stroke-linecap="round"/>
<line x1="591.35" y1="343.27" x2="592.38" y2="344.07" stroke="rgb(122, 36, 30)" stroke-width="1.41" stroke-linecap="round"/>
<line x1="592.38" y1="344.07" x2="593.40" y2="344.86" stroke="rgb(125, 37, 31)" stroke-width="1.41" stroke-linecap="round"/>
<line x1="593.40" y1="344.86" x2="594.42" y2="345.65" stroke="rgb(128, 38, 31)" stroke-width="1.42" stroke-linecap="round"/>
<line x1="594.42" y1="345.65" x2="595.45" y2="346.42" stroke="rgb(130, 40, 32)" stroke-width="1.42" stroke-linecap="round"/>
<line x1="595.45" y1="346.42" x2="596.47" y2="347.18" stroke="rgb(133, 41, 32)" stroke-width="1.43" stroke-linecap="round"/>
<line x1="596.47" y1="347.18" x2="597.50" y2="347.90" stroke="rgb(136, 42, 33)" stroke-width="1.44" stroke-linecap="round"/>
<line x1="597.50" y1="347.90" x2="598.54" y2="348.60" stroke="rgb(139, 43, 33)" stroke-width="1.44" stroke-linecap="round"/>
<line x1="598.54" y1="348.60" x2="599.59" y2="349.29" stroke="rgb(141, 45, 34)" stroke-width="1.45" stroke-linecap="round"/>
<line x1="599.59" y1="349.29" x2="600.66" y2="349.97" stroke="rgb(144, 46, 34)" stroke-width="1.45" stroke-linecap="round"/>
<line x1="600.66" y1="349.97" x2="601.72" y2="350.63" stroke="rgb(147, 47, 35)" stroke-width="1.46" stroke-linecap="round"/>
<line x1="601.72" y1="350.63" x2="602.76" y2="351.27" stroke="rgb(150, 48, 35)" stroke-width="1.47" stroke-linecap="round"/>
<line x1="602.76" y1="351.27" x2="603.78" y2="351.88" stroke="rgb(152, 49, 36)" stroke-width="1.47" stroke-linecap="round"/>
<line x1="603.78" y1="351.88" x2="604.77" y2="352.46" stroke="rgb(155, 51, 36)" stroke-width="1.48" stroke-linecap="round"/>
<line x1="604.77" y1="352.46" x2="605.70" y2="353.00" stroke="rgb(158, 52, 37)" stroke-width="1.48" stroke-linecap="round"/>
<line x1="605.70" y1="353.00" x2="606.56" y2="353.50" stroke="rgb(160, 53, 37)" stroke-width="1.49" stroke-linecap="round"/>
<line x1="606.56" y1="353.50" x2="607.36" y2="353.95" stroke="rgb(163, 54, 38)" stroke-width="1.50" stroke-linecap="round"/>
<line x1="607.36" y1="353.95" x2="608.11" y2="354.36" stroke="rgb(166, 57, 38)" stroke-width="1.51" stroke-linecap="round"/>
<line x1="608.11" y1="354.36" x2="608.84" y2="354.76" stroke="rgb(170, 61, 40)" stroke-width="1.53" stroke-linecap="round"/>
<line x1="608.84" y1="354.76" x2="609.57" y2="355.13" stroke="rgb(174, 65, 41)" stroke-width="1.55" stroke-linecap="round"/>
<line x1="609.57" y1="355.13" x2="610.32" y2="355.51" stroke="rgb(178, 70, 42)" stroke-width="1.57" stroke-linecap="round"/>
<line x1="610.32" y1="355.51" x2="611.12" y2="355.90" stroke="rgb(182, 74, 43)" stroke-width="1.59" stroke-linecap="round"/>
<line x1="611.12" y1="355.90" x2="612.00" y2="356.30" stroke="rgb(186, 79, 44)" stroke-width="1.61" stroke-linecap="round"/>
<line x1="612.00" y1="356.30" x2="612.96" y2="356.73" stroke="rgb(190, 83, 45)" stroke-width="1.62" stroke-linecap="round"/>
<line x1="612.96" y1="356.73" x2="613.99" y2="357.19" stroke="rgb(194, 88, 47)" stroke-width="1.64" stroke-linecap="round"/>
<line x1="613.99" y1="357.19" x2="615.07" y2="357.65" stroke="rgb(198, 92, 48)" stroke-width="1.66" stroke-linecap="round"/>
<line x1="615.07" y1="357.65" x2="616.17" y2="358.11" stroke="rgb(202, 96, 49)" stroke-width="1.68" stroke-linecap="round"/>
<line x1="616.17" y1="358.11" x2="617.28" y2="358.55" stroke="rgb(206, 103, 51)" stroke-width="1.71" stroke-linecap="round"/>
<line x1="617.28" y1="358.55" x2="618.37" y2="358.97" stroke="rgb(212, 119, 58)" stroke-width="1.79" stroke-linecap="round"/>
<line x1="618.37" y1="358.97" x2="619.42" y2="359.36" stroke="rgb(218, 136, 64)" stroke-width="1.87" stroke-linecap="round"/>
<line x1="619.42" y1="359.36" x2="620.40" y2="359.70" stroke="rgb(224, 152, 71)" stroke-width="1.95" stroke-linecap="round"/>
<line x1="620.40" y1="359.70" x2="621.31" y2="359.98" stroke="rgb(230, 169, 77)" stroke-width="2.03" stroke-linecap="round"/>
<line x1="621.31" y1="359.98" x2="622.15" y2="360.22" stroke="rgb(236, 185, 84)" stroke-width="2.11" stroke-linecap="round"/>
<line x1="622.15" y1="360.22" x2="622.95" y2="360.41" stroke="rgb(241, 201, 91)" stroke-width="2.19" stroke-linecap="round"/>
<line x1="622.95" y1="360.41" x2="623.73" y2="360.59" stroke="rgb(247, 218, 97)" stroke-width="2.27" stroke-linecap="round"/>
<line x1="623.73" y1="360.59" x2="624.52" y2="360.75" stroke="rgb(243, 226, 98)" stroke-width="2.29" stroke-linecap="round"/>
<line x1="624.52" y1="360.75" x2="625.32" y2="360.91" stroke="rgb(232, 228, 94)" stroke-width="2.27" stroke-linecap="round"/>
<line x1="625.32" y1="360.91" x2="626.18" y2="361.09" stroke="rgb(220, 230, 90)" stroke-width="2.25" stroke-linecap="round"/>
<line x1="626.18" y1="361.09" x2="627.10" y2="361.30" stroke="rgb(208, 232, 86)" stroke-width="2.23" stroke-linecap="round"/>
<line x1="627.10" y1="361.30" x2="628.08" y2="361.54" stroke="rgb(196, 234, 82)" stroke-width="2.21" stroke-linecap="round"/>
<line x1="628.08" y1="361.54" x2="629.10" y2="361.80" stroke="rgb(182, 234, 79)" stroke-width="2.19" stroke-linecap="round"/>
<line x1="629.10" y1="361.80" x2="630.15" y2="362.06" stroke="rgb(167, 233, 76)" stroke-width="2.18" stroke-linecap="round"/>
<line x1="630.15" y1="362.06" x2="631.23" y2="362.34" stroke="rgb(151, 232, 73)" stroke-width="2.17" stroke-linecap="round"/>
<line x1="631.23" y1="362.34" x2="632.34" y2="362.61" stroke="rgb(135, 230, 71)" stroke-width="2.15" stroke-linecap="round"/>
<line x1="632.34" y1="362.61" x2="633.47" y2="362.86" stroke="rgb(119, 229, 68)" stroke-width="2.14" stroke-linecap="round"/>
<line x1="633.47" y1="362.86" x2="634.63" y2="363.10" stroke="rgb(104, 228, 66)" stroke-width="2.13" stroke-linecap="round"/>
<line x1="634.63" y1="363.10" x2="635.80" y2="363.30" stroke="rgb(88, 226, 63)" stroke-width="2.11" stroke-linecap="round"/>
<line x1="635.80" y1="363.30" x2="637.00" y2="363.48" stroke="rgb(72, 225, 60)" stroke-width="2.10" stroke-linecap="round"/>
<line x1="637.00" y1="363.48" x2="638.24" y2="363.63" stroke="rgb(69, 224, 60)" stroke-width="2.10" stroke-linecap="round"/>
<line x1="638.24" y1="363.63" x2="639.52" y2="363.77" stroke="rgb(68, 224, 59)" stroke-width="2.09" stroke-linecap="round"/>
<line x1="639.52" y1="363.77" x2="640.81" y2="363.89" stroke="rgb(67, 223, 59)" stroke-width="2.09" stroke-linecap="round"/>
<line x1="640.81" y1="363.89" x2="642.11" y2="364.00" stroke="rgb(67, 222, 58)" stroke-width="2.08" stroke-linecap="round"/>
<line x1="642.11" y1="364.00" x2="643.41" y2="364.10" stroke="rgb(66, 222, 58)" stroke-width="2.08" stroke-linecap="round"/>
<line x1="643.41" y1="364.10" x2="644.71" y2="364.20" stroke="rgb(65, 221, 57)" stroke-width="2.07" stroke-linecap="round"/>
<line x1="644.71" y1="364.20" x2="646.00" y2="364.30" stroke="rgb(64, 220, 57)" stroke-width="2.07" stroke-linecap="round"/>
<line x1="646.00" y1="364.30" x2="647.32" y2="364.39" stroke="rgb(63, 220, 57)" stroke-width="2.07" stroke-linecap="round"/>
<line x1="647.32" y1="364.39" x2="648.69" y2="364.47" stroke="rgb(62, 219, 56)" stroke-width="2.06" stroke-linecap="round"/>
<line x1="648.69" y1="364.47" x2="650.08" y2="364.53" stroke="rgb(61, 219, 56)" stroke-width="2.06" stroke-linecap="round"/>
<line x1="650.08" y1="364.53" x2="651.47" y2="364.59" stroke="rgb(60, 218, 55)" stroke-width="2.05" stroke-linecap="round"/>
<line x1="651.47" y1="364.59" x2="652.81" y2="364.66" stroke="rgb(60, 217, 55)" stroke-width="2.05" stroke-linecap="round"/>
<line x1="652.81" y1="364.66" x2="654.06" y2="364.72" stroke="rgb(59, 217, 54)" stroke-width="2.04" stroke-linecap="round"/>
<line x1="654.06" y1="364.72" x2="655.21" y2="364.80" stroke="rgb(58, 216, 54)" stroke-width="2.04" stroke-linecap="round"/>
<line x1="655.21" y1="364.80" x2="656.20" y2="364.90" stroke="rgb(57, 215, 53)" stroke-width="2.03" stroke-linecap="round"/>
<line x1="656.20" y1="364.90" x2="657.05" y2="365.02" stroke="rgb(56, 215, 53)" stroke-width="2.03" stroke-linecap="round"/>
<line x1="657.05" y1="365.02" x2="657.79" y2="365.17" stroke="rgb(55, 214, 53)" stroke-width="2.03" stroke-linecap="round"/>
<line x1="657.79" y1="365.17" x2="658.43" y2="365.32" stroke="rgb(54, 213, 52)" stroke-width="2.02" stroke-linecap="round"/>
<line x1="658.43" y1="365.32" x2="658.99" y2="365.49" stroke="rgb(53, 213, 52)" stroke-width="2.02" stroke-linecap="round"/>
<line x1="658.99" y1="365.49" x2="659.46" y2="365.65" stroke="rgb(53, 212, 51)" stroke-width="2.01" stroke-linecap="round"/>
<line x1="659.46" y1="365.65" x2="659.87" y2="365.79" stroke="rgb(52, 211, 51)" stroke-width="2.01" stroke-linecap="round"/>
<line x1="659.87" y1="365.79" x2="660.21" y2="365.91" stroke="rgb(51, 211, 50)" stroke-width="2.00" stroke-linecap="round"/>
<line x1="660.21" y1="365.91" x2="660.50" y2="366.00" stroke="rgb(50, 210, 50)" stroke-width="2.00" stroke-linecap="round"/>
<path d="M622,360.3 C630,361.8 640,363.8 658,365" fill="none" stroke="#50ff50" stroke-width="3.5" opacity="0.35" filter="url(#bl3)"/>
<ellipse cx="627.5" cy="361.4" rx="3.2" ry="2" fill="#fff080" opacity="0.8" filter="url(#bl1)"/>
<ellipse cx="660.5" cy="366" rx="1.6" ry="1.3" fill="#2a8a2a" opacity="0.8"/>
<line x1="618.4" y1="380.7" x2="630.7" y2="386.3" stroke="#3a1610" stroke-width="1.2"/>
<line x1="561.00" y1="304.30" x2="572.97" y2="285.76" stroke="#d0141c" stroke-width="1.6"/><path d="M576.50,280.30 L575.89,288.24 L569.51,284.12 Z" fill="#d0141c"/>
<line x1="659.10" y1="331.60" x2="659.10" y2="348.40" stroke="#22e022" stroke-width="2.2"/><path d="M659.10,356.40 L655.20,347.90 L663.00,347.90 Z" fill="#22e022"/>
<text x="575.5" y="276.5" font-size="12.8" fill="#fff">Output</text>
<text x="645.3" y="321.2" font-size="12.6" fill="#fff">Input</text>
<text x="526.9" y="350.2" font-size="12.8" fill="#fff">Microwire</text>
<rect x="531.1" y="387.7" width="34.8" height="2.9" fill="#f4f4f4"/>
<text x="61.4" y="481" font-size="18" font-weight="bold" fill="#111">e</text>
<defs><clipPath id="ph"><rect x="69.9" y="575.8" width="167.9" height="147.4"/></clipPath><filter id="bl1" x="-20%" y="-20%" width="140%" height="140%"><feGaussianBlur stdDeviation="0.8"/></filter><filter id="bl2" x="-20%" y="-20%" width="140%" height="140%"><feGaussianBlur stdDeviation="1.6"/></filter><linearGradient id="bgph" x1="0" y1="0" x2="1" y2="1"><stop offset="0" stop-color="#819388"/><stop offset="1" stop-color="#7e9086"/></linearGradient></defs>
<g clip-path="url(#ph)">
<rect x="69.9" y="575.8" width="167.9" height="147.4" fill="url(#bgph)"/>
<polygon points="147.70,608.90 153.50,611.00 159.50,616.00 165.70,624.20 171.50,633.00 175.00,641.00 177.40,649.00 180.30,660.70 184.70,675.30 187.50,690.00 189.70,697.00 192.10,713.20 193.10,724.00 198.10,724.00 197.10,713.20 194.70,697.00 192.50,690.00 189.70,675.30 185.30,660.70 182.40,649.00 180.00,641.00 176.50,633.00 170.70,624.20 164.50,616.00 158.50,611.00 152.70,608.90" fill="#8d9dac" opacity="0.75" filter="url(#bl1)"/>
<polygon points="69.90,621.50 100.00,616.50 140.00,611.00 146.20,608.90 152.00,611.00 158.00,616.00 164.20,624.20 170.00,633.00 173.50,641.00 175.90,649.00 178.80,660.70 183.20,675.30 186.00,690.00 188.20,697.00 190.60,713.20 191.60,724.00 69.90,724.00" fill="#8d9b8e"/>
<polygon points="146.20,608.90 152.00,611.00 158.00,616.00 164.20,624.20 170.00,633.00 173.50,641.00 175.90,649.00 178.80,660.70 183.20,675.30 186.00,690.00 188.20,697.00 190.60,713.20 191.60,724.00 182.00,724.00 180.10,713.20 173.50,697.00 170.40,690.00 164.20,675.30 160.50,660.70 162.00,649.00 161.00,642.00 158.00,633.00 154.00,624.20 150.00,619.00 143.00,615.00 143.00,614.00" fill="#ccd4c0" filter="url(#bl1)"/>
<polyline points="144.60,609.50 150.40,611.60 156.40,616.60 162.60,624.80 168.40,633.60 171.90,641.60 174.30,649.60 177.20,661.30 181.60,675.90 184.40,690.60 186.60,697.60 189.00,713.80 190.00,724.60" fill="none" stroke="#eef1e6" stroke-width="2.6" opacity="0.9" filter="url(#bl1)"/>
<polygon points="69.90,617.50 85.00,615.50 100.00,613.00 120.00,611.00 140.00,608.50 146.50,608.50 150.00,611.00 148.00,614.00 140.00,614.00 120.00,616.00 100.00,618.50 85.00,621.50 69.90,624.00" fill="#e8ebe2" filter="url(#bl1)"/>
<ellipse cx="83.9" cy="617.5" rx="2.0" ry="0.9" fill="#a8b4a4"/>
<ellipse cx="143.3" cy="611.4" rx="2.4" ry="0.7" fill="#a8b4a4"/>
<ellipse cx="128.8" cy="610.3" rx="2.4" ry="0.9" fill="#a8b4a4"/>
<ellipse cx="129.2" cy="611.4" rx="1.3" ry="0.6" fill="#b0baa8"/>
<ellipse cx="116.3" cy="611.5" rx="1.5" ry="0.9" fill="#f8faf4"/>
<ellipse cx="118.7" cy="615.8" rx="1.0" ry="1.1" fill="#f8faf4"/>
<ellipse cx="81.0" cy="618.9" rx="1.7" ry="1.0" fill="#ffffff"/>
<ellipse cx="100.9" cy="613.3" rx="2.0" ry="0.9" fill="#a8b4a4"/>
<ellipse cx="77.4" cy="615.5" rx="2.0" ry="1.2" fill="#f8faf4"/>
<ellipse cx="80.8" cy="616.6" rx="2.2" ry="0.7" fill="#a8b4a4"/>
<ellipse cx="135.9" cy="611.7" rx="1.5" ry="0.9" fill="#b0baa8"/>
<ellipse cx="94.9" cy="615.5" rx="1.4" ry="1.2" fill="#a8b4a4"/>
<ellipse cx="123.7" cy="615.7" rx="1.7" ry="0.9" fill="#a8b4a4"/>
<ellipse cx="113.1" cy="613.2" rx="2.5" ry="0.7" fill="#a8b4a4"/>
<ellipse cx="117.1" cy="615.4" rx="1.5" ry="1.1" fill="#ffffff"/>
<ellipse cx="89.7" cy="614.4" rx="2.4" ry="0.7" fill="#b0baa8"/>
<ellipse cx="99.0" cy="616.2" rx="2.0" ry="1.2" fill="#a8b4a4"/>
<ellipse cx="101.3" cy="617.5" rx="2.4" ry="1.0" fill="#ffffff"/>
<ellipse cx="107.3" cy="613.9" rx="1.4" ry="1.2" fill="#a8b4a4"/>
<ellipse cx="112.5" cy="613.8" rx="1.6" ry="1.1" fill="#f8faf4"/>
<ellipse cx="132.3" cy="610.2" rx="1.4" ry="0.8" fill="#b0baa8"/>
<ellipse cx="89.9" cy="615.5" rx="2.3" ry="1.1" fill="#a8b4a4"/>
<ellipse cx="142.8" cy="612.8" rx="1.7" ry="0.8" fill="#b0baa8"/>
<ellipse cx="74.0" cy="615.9" rx="2.3" ry="1.2" fill="#ffffff"/>
<ellipse cx="115.3" cy="613.5" rx="1.9" ry="1.2" fill="#ffffff"/>
<ellipse cx="82.0" cy="617.1" rx="1.2" ry="1.1" fill="#b0baa8"/>
<circle cx="186.2" cy="703.5" r="0.9" fill="#a9b39f" opacity="0.8"/>
<circle cx="188.4" cy="701.7" r="1.0" fill="#b4bca8" opacity="0.8"/>
<circle cx="175.3" cy="660.4" r="0.7" fill="#dfe6d4" opacity="0.8"/>
<circle cx="152.1" cy="619.6" r="1.2" fill="#dfe6d4" opacity="0.8"/>
<circle cx="155.9" cy="618.2" r="0.7" fill="#9fa994" opacity="0.8"/>
<circle cx="173.0" cy="645.2" r="1.2" fill="#dfe6d4" opacity="0.8"/>
<circle cx="158.6" cy="630.0" r="1.3" fill="#e8ede0" opacity="0.8"/>
<circle cx="186.4" cy="696.7" r="1.4" fill="#e8ede0" opacity="0.8"/>
<circle cx="163.2" cy="666.6" r="1.4" fill="#dfe6d4" opacity="0.8"/>
<circle cx="163.6" cy="629.1" r="0.9" fill="#e8ede0" opacity="0.8"/>
<circle cx="161.4" cy="633.8" r="1.5" fill="#a9b39f" opacity="0.8"/>
<circle cx="179.0" cy="691.4" r="1.2" fill="#9fa994" opacity="0.8"/>
<circle cx="181.2" cy="693.5" r="0.9" fill="#9fa994" opacity="0.8"/>
<circle cx="167.4" cy="638.6" r="1.4" fill="#dfe6d4" opacity="0.8"/>
<circle cx="153.5" cy="619.6" r="0.8" fill="#e8ede0" opacity="0.8"/>
<circle cx="166.9" cy="652.3" r="1.5" fill="#b4bca8" opacity="0.8"/>
<circle cx="155.1" cy="615.7" r="1.6" fill="#9fa994" opacity="0.8"/>
<circle cx="185.4" cy="701.7" r="1.3" fill="#f4f6ee" opacity="0.8"/>
<circle cx="183.1" cy="684.2" r="0.7" fill="#e8ede0" opacity="0.8"/>
<circle cx="147.7" cy="617.3" r="0.9" fill="#9fa994" opacity="0.8"/>
<circle cx="169.9" cy="665.0" r="0.8" fill="#f4f6ee" opacity="0.8"/>
<circle cx="169.7" cy="648.5" r="1.6" fill="#e8ede0" opacity="0.8"/>
<circle cx="147.6" cy="613.5" r="1.3" fill="#dfe6d4" opacity="0.8"/>
<circle cx="178.3" cy="673.4" r="1.3" fill="#9fa994" opacity="0.8"/>
<circle cx="184.6" cy="708.9" r="1.1" fill="#a9b39f" opacity="0.8"/>
<circle cx="181.7" cy="697.7" r="1.3" fill="#e8ede0" opacity="0.8"/>
<circle cx="156.7" cy="624.3" r="1.0" fill="#dfe6d4" opacity="0.8"/>
<circle cx="152.5" cy="621.2" r="0.9" fill="#f4f6ee" opacity="0.8"/>
<circle cx="183.0" cy="675.2" r="0.8" fill="#f4f6ee" opacity="0.8"/>
<circle cx="163.0" cy="635.8" r="1.2" fill="#dfe6d4" opacity="0.8"/>
<circle cx="161.3" cy="642.3" r="1.1" fill="#dfe6d4" opacity="0.8"/>
<circle cx="183.1" cy="715.5" r="1.3" fill="#b4bca8" opacity="0.8"/>
<circle cx="167.1" cy="658.2" r="1.0" fill="#f4f6ee" opacity="0.8"/>
<circle cx="184.3" cy="699.0" r="1.3" fill="#9fa994" opacity="0.8"/>
<circle cx="170.1" cy="634.0" r="0.8" fill="#a9b39f" opacity="0.8"/>
<circle cx="187.9" cy="715.4" r="0.6" fill="#9fa994" opacity="0.8"/>
<circle cx="181.3" cy="693.2" r="1.3" fill="#dfe6d4" opacity="0.8"/>
<circle cx="149.9" cy="617.6" r="1.6" fill="#dfe6d4" opacity="0.8"/>
<circle cx="166.5" cy="680.7" r="0.8" fill="#9fa994" opacity="0.8"/>
<circle cx="163.2" cy="667.8" r="0.8" fill="#f4f6ee" opacity="0.8"/>
<circle cx="178.5" cy="684.3" r="1.4" fill="#9fa994" opacity="0.8"/>
<circle cx="169.9" cy="688.0" r="1.2" fill="#e8ede0" opacity="0.8"/>
<circle cx="174.8" cy="663.1" r="1.4" fill="#dfe6d4" opacity="0.8"/>
<circle cx="157.6" cy="618.0" r="1.2" fill="#9fa994" opacity="0.8"/>
<circle cx="178.1" cy="670.5" r="0.9" fill="#a9b39f" opacity="0.8"/>
<circle cx="156.8" cy="624.8" r="1.2" fill="#e8ede0" opacity="0.8"/>
<circle cx="184.4" cy="705.8" r="1.3" fill="#dfe6d4" opacity="0.8"/>
<circle cx="162.3" cy="651.6" r="0.6" fill="#f4f6ee" opacity="0.8"/>
<circle cx="168.7" cy="641.3" r="0.8" fill="#e8ede0" opacity="0.8"/>
<circle cx="165.5" cy="636.5" r="1.0" fill="#b4bca8" opacity="0.8"/>
<circle cx="164.5" cy="634.9" r="0.7" fill="#dfe6d4" opacity="0.8"/>
<circle cx="165.0" cy="631.0" r="1.2" fill="#b4bca8" opacity="0.8"/>
<circle cx="181.5" cy="719.9" r="1.0" fill="#f4f6ee" opacity="0.8"/>
<circle cx="160.1" cy="628.0" r="0.6" fill="#a9b39f" opacity="0.8"/>
<circle cx="185.7" cy="703.0" r="1.2" fill="#9fa994" opacity="0.8"/>
<circle cx="173.7" cy="693.1" r="0.9" fill="#dfe6d4" opacity="0.8"/>
<circle cx="180.3" cy="677.4" r="0.6" fill="#a9b39f" opacity="0.8"/>
<circle cx="159.7" cy="624.4" r="1.4" fill="#b4bca8" opacity="0.8"/>
<circle cx="159.0" cy="617.7" r="1.1" fill="#f4f6ee" opacity="0.8"/>
<circle cx="162.2" cy="630.5" r="0.9" fill="#f4f6ee" opacity="0.8"/>
<circle cx="164.2" cy="656.9" r="1.2" fill="#a9b39f" opacity="0.8"/>
<circle cx="183.4" cy="686.4" r="1.2" fill="#e8ede0" opacity="0.8"/>
<circle cx="175.1" cy="663.7" r="1.6" fill="#b4bca8" opacity="0.8"/>
<circle cx="162.0" cy="637.8" r="1.1" fill="#a9b39f" opacity="0.8"/>
<circle cx="173.4" cy="690.1" r="1.3" fill="#9fa994" opacity="0.8"/>
<circle cx="185.1" cy="711.4" r="0.8" fill="#dfe6d4" opacity="0.8"/>
<circle cx="169.0" cy="636.0" r="0.8" fill="#f4f6ee" opacity="0.8"/>
<circle cx="168.9" cy="634.6" r="0.8" fill="#a9b39f" opacity="0.8"/>
<circle cx="179.6" cy="700.8" r="0.7" fill="#dfe6d4" opacity="0.8"/>
<circle cx="157.4" cy="624.2" r="0.6" fill="#b4bca8" opacity="0.8"/>
<circle cx="184.8" cy="693.7" r="1.1" fill="#f4f6ee" opacity="0.8"/>
<circle cx="165.4" cy="635.9" r="1.4" fill="#b4bca8" opacity="0.8"/>
<circle cx="146.1" cy="609.5" r="0.7" fill="#a9b39f" opacity="0.8"/>
<circle cx="174.3" cy="672.3" r="1.0" fill="#b4bca8" opacity="0.8"/>
<circle cx="156.3" cy="617.4" r="1.0" fill="#a9b39f" opacity="0.8"/>
<circle cx="181.3" cy="673.3" r="0.8" fill="#a9b39f" opacity="0.8"/>
<circle cx="153.9" cy="620.9" r="0.7" fill="#a9b39f" opacity="0.8"/>
<circle cx="153.7" cy="620.1" r="0.8" fill="#dfe6d4" opacity="0.8"/>
<circle cx="159.6" cy="622.5" r="0.8" fill="#b4bca8" opacity="0.8"/>
<circle cx="168.5" cy="653.8" r="0.6" fill="#dfe6d4" opacity="0.8"/>
<circle cx="167.4" cy="636.2" r="1.0" fill="#e8ede0" opacity="0.8"/>
<circle cx="178.0" cy="707.3" r="1.3" fill="#9fa994" opacity="0.8"/>
<circle cx="174.6" cy="674.6" r="1.1" fill="#f4f6ee" opacity="0.8"/>
<circle cx="187.9" cy="698.1" r="0.7" fill="#f4f6ee" opacity="0.8"/>
<circle cx="174.3" cy="677.9" r="1.1" fill="#dfe6d4" opacity="0.8"/>
<circle cx="169.4" cy="686.6" r="1.2" fill="#f4f6ee" opacity="0.8"/>
<circle cx="167.9" cy="631.9" r="1.3" fill="#a9b39f" opacity="0.8"/>
<circle cx="165.4" cy="677.4" r="0.9" fill="#b4bca8" opacity="0.8"/>
<circle cx="173.8" cy="643.7" r="1.1" fill="#dfe6d4" opacity="0.8"/>
<circle cx="154.7" cy="623.0" r="0.8" fill="#9fa994" opacity="0.8"/>
<circle cx="152.2" cy="614.7" r="1.2" fill="#e8ede0" opacity="0.8"/>
<circle cx="152.5" cy="614.4" r="1.1" fill="#e8ede0" opacity="0.8"/>
<circle cx="162.5" cy="630.0" r="0.8" fill="#f4f6ee" opacity="0.8"/>
<circle cx="187.1" cy="696.5" r="1.3" fill="#e8ede0" opacity="0.8"/>
<circle cx="166.4" cy="661.1" r="1.5" fill="#a9b39f" opacity="0.8"/>
<circle cx="168.3" cy="655.3" r="1.5" fill="#9fa994" opacity="0.8"/>
<circle cx="178.5" cy="664.4" r="0.7" fill="#a9b39f" opacity="0.8"/>
<circle cx="175.7" cy="678.1" r="0.8" fill="#a9b39f" opacity="0.8"/>
<circle cx="170.2" cy="649.9" r="1.0" fill="#a9b39f" opacity="0.8"/>
<circle cx="145.6" cy="611.8" r="1.1" fill="#dfe6d4" opacity="0.8"/>
<circle cx="157.1" cy="623.7" r="0.9" fill="#b4bca8" opacity="0.8"/>
<circle cx="170.5" cy="687.9" r="1.3" fill="#f4f6ee" opacity="0.8"/>
<circle cx="180.4" cy="688.9" r="1.1" fill="#9fa994" opacity="0.8"/>
<circle cx="161.6" cy="657.0" r="1.2" fill="#9fa994" opacity="0.8"/>
<circle cx="171.5" cy="646.7" r="0.6" fill="#9fa994" opacity="0.8"/>
<circle cx="159.9" cy="632.5" r="0.8" fill="#a9b39f" opacity="0.8"/>
<circle cx="148.2" cy="616.0" r="1.3" fill="#f4f6ee" opacity="0.8"/>
<circle cx="164.6" cy="634.9" r="1.0" fill="#a9b39f" opacity="0.8"/>
<circle cx="181.0" cy="708.8" r="1.0" fill="#dfe6d4" opacity="0.8"/>
<circle cx="173.1" cy="644.9" r="1.3" fill="#a9b39f" opacity="0.8"/>
<path d="M166,650 C161,655 162,668 167,676 C170,681 173,680 172,672 C171,664 170,656 166,650 Z" fill="none" stroke="#d6ddc6" stroke-width="1.3" opacity="0.85"/>
<circle cx="135.2" cy="700.1" r="0.74" fill="#b8c4b4" opacity="0.6"/>
<circle cx="161.7" cy="710.4" r="0.52" fill="#b8c4b4" opacity="0.6"/>
<circle cx="164.7" cy="657.5" r="0.59" fill="#b8c4b4" opacity="0.6"/>
<circle cx="162.8" cy="642.1" r="0.60" fill="#b8c4b4" opacity="0.6"/>
<circle cx="130.2" cy="652.2" r="0.53" fill="#b8c4b4" opacity="0.6"/>
<circle cx="145.9" cy="684.8" r="0.77" fill="#b8c4b4" opacity="0.6"/>
<circle cx="145.5" cy="709.7" r="0.85" fill="#b8c4b4" opacity="0.6"/>
<circle cx="148.6" cy="719.9" r="0.65" fill="#b8c4b4" opacity="0.6"/>
<circle cx="137.2" cy="675.3" r="0.88" fill="#b8c4b4" opacity="0.6"/>
<circle cx="132.9" cy="667.3" r="0.73" fill="#b8c4b4" opacity="0.6"/>
<circle cx="99.4" cy="638.4" r="0.59" fill="#b8c4b4" opacity="0.6"/>
<circle cx="84.7" cy="626.4" r="0.45" fill="#b8c4b4" opacity="0.6"/>
<circle cx="114.3" cy="699.3" r="0.42" fill="#b8c4b4" opacity="0.6"/>
<circle cx="131.2" cy="636.7" r="0.66" fill="#b8c4b4" opacity="0.6"/>
<circle cx="99.5" cy="668.8" r="0.76" fill="#b8c4b4" opacity="0.6"/>
<circle cx="110.4" cy="663.6" r="0.76" fill="#b8c4b4" opacity="0.6"/>
<circle cx="82.8" cy="659.5" r="0.75" fill="#b8c4b4" opacity="0.6"/>
<circle cx="149.6" cy="720.0" r="0.53" fill="#b8c4b4" opacity="0.6"/>
<circle cx="130.1" cy="656.0" r="0.75" fill="#b8c4b4" opacity="0.6"/>
<circle cx="150.7" cy="639.0" r="0.57" fill="#b8c4b4" opacity="0.6"/>
<circle cx="159.1" cy="659.8" r="0.72" fill="#b8c4b4" opacity="0.6"/>
<circle cx="148.1" cy="652.8" r="0.79" fill="#b8c4b4" opacity="0.6"/>
<circle cx="72.3" cy="658.7" r="0.48" fill="#b8c4b4" opacity="0.6"/>
<circle cx="104.2" cy="646.5" r="0.41" fill="#b8c4b4" opacity="0.6"/>
<circle cx="146.7" cy="642.7" r="0.69" fill="#b8c4b4" opacity="0.6"/>
<circle cx="123.5" cy="707.6" r="0.82" fill="#b8c4b4" opacity="0.6"/>
<circle cx="129.8" cy="642.2" r="0.78" fill="#b8c4b4" opacity="0.6"/>
<circle cx="81.1" cy="715.1" r="0.55" fill="#b8c4b4" opacity="0.6"/>
<circle cx="95.5" cy="646.8" r="0.60" fill="#b8c4b4" opacity="0.6"/>
<circle cx="145.6" cy="708.1" r="0.77" fill="#b8c4b4" opacity="0.6"/>
<circle cx="139.8" cy="649.4" r="0.56" fill="#b8c4b4" opacity="0.6"/>
<circle cx="100.3" cy="667.6" r="0.84" fill="#b8c4b4" opacity="0.6"/>
<circle cx="164.6" cy="634.0" r="0.88" fill="#b8c4b4" opacity="0.6"/>
<circle cx="157.4" cy="670.2" r="0.75" fill="#b8c4b4" opacity="0.6"/>
<circle cx="145.0" cy="643.9" r="0.71" fill="#b8c4b4" opacity="0.6"/>
<circle cx="163.3" cy="710.5" r="0.86" fill="#b8c4b4" opacity="0.6"/>
<circle cx="79.9" cy="694.6" r="0.64" fill="#b8c4b4" opacity="0.6"/>
<circle cx="156.6" cy="642.0" r="0.67" fill="#b8c4b4" opacity="0.6"/>
<circle cx="83.2" cy="703.2" r="0.76" fill="#b8c4b4" opacity="0.6"/>
<circle cx="74.9" cy="655.7" r="0.47" fill="#b8c4b4" opacity="0.6"/>
<circle cx="131.1" cy="686.5" r="0.43" fill="#b8c4b4" opacity="0.6"/>
<circle cx="160.4" cy="718.7" r="0.62" fill="#b8c4b4" opacity="0.6"/>
<circle cx="125.4" cy="660.9" r="0.70" fill="#b8c4b4" opacity="0.6"/>
<circle cx="109.1" cy="668.3" r="0.77" fill="#b8c4b4" opacity="0.6"/>
<circle cx="89.3" cy="654.6" r="0.78" fill="#b8c4b4" opacity="0.6"/>
<line x1="150" y1="720" x2="176" y2="690" stroke="#a8b4a2" stroke-width="1.5" opacity="0.5"/>
<path d="M107.2,575.8 L111.4,575.8 L111.8,604 L108.5,604 Z" fill="#7f9fcc" filter="url(#bl1)"/>
<path d="M101.5,575.8 L109.4,575.8 L109.9,602 C109.9,604 108,604.5 106,604.3 L103.3,604 C102.5,603.5 102.6,602 102.6,601 Z" fill="#f2f4ef"/>
<path d="M203.2,689.2 L238,686.2 L238,693.2 L203.8,696.5 Z" fill="#e4e6ea"/>
<path d="M206,692.5 L236,690" stroke="#c6c8d0" stroke-width="0.8"/>
<path d="M110,604 C110.5,612 111.5,622 113.5,632 C116,642 120,652 126,658 C134,668 142,675 150,680 C160,686 170,690 180,692 C188,693.2 195,693.6 203.5,693.6" fill="none" stroke="#c8cfbf" stroke-width="1.1"/>
</g>
<rect x="68.4" y="574.35" width="170.8" height="150.3" fill="none" stroke="#e01818" stroke-width="3"/>
<text x="156.3" y="599.3" font-size="12.7" fill="#141414">SMF-28</text>
<text x="150.7" y="644.3" font-size="12.8" fill="#141414">Microwire</text>
<text x="75.6" y="687.3" font-size="12.7" fill="#141414">Glass slide</text>
<line x1="152.10" y1="595.90" x2="120.27" y2="592.95" stroke="#111" stroke-width="1.5"/><path d="M113.30,592.30 L121.12,589.21 L120.42,596.78 Z" fill="#111"/>
<line x1="194.60" y1="602.60" x2="229.07" y2="680.60" stroke="#111" stroke-width="1.3"/><path d="M231.90,687.00 L225.58,681.60 L232.16,678.68 Z" fill="#111"/>
<line x1="154.70" y1="653.80" x2="142.63" y2="662.28" stroke="#111" stroke-width="1.5"/><path d="M136.90,666.30 L140.85,658.88 L145.22,665.10 Z" fill="#111"/>
<rect x="81.1" y="712.9" width="36.5" height="3" fill="#0a0a0a"/>
<rect x="365.5" y="443.0" width="132.7" height="132.3" fill="#fff" stroke="#2a2a2a" stroke-width="1.3"/>
<rect x="364.5" y="610.5" width="82.5" height="70.3" fill="none" stroke="#2a2a2a" stroke-width="1.3"/>
<rect x="350.6" y="707.2" width="82.5" height="70.6" fill="#fff" stroke="#2a2a2a" stroke-width="1.3"/>
<rect x="461.6" y="676.7" width="83" height="70.6" fill="#fff" stroke="#2a2a2a" stroke-width="1.3"/>
<text x="389.6" y="651.4" font-size="12.6" fill="#111">XYZ</text>
<text x="382.7" y="756.3" font-size="12.6" fill="#111">XYZ</text>
<text x="495.2" y="727.6" font-size="12.6" fill="#111">XYZ</text>
<rect x="392.8" y="528.1" width="13.8" height="13.9" fill="#e3e7eb"/>
<rect x="392.8" y="528.1" width="13.8" height="13.9" fill="#e2e6ea"/>
<rect x="392.8" y="544.2" width="13.8" height="14.6" fill="#eef0f3"/>
<rect x="392.8" y="561.4" width="13.8" height="6.2" fill="#f6f7f8"/>
<rect x="408.9" y="528.1" width="14.2" height="13.9" fill="#e2e6ea"/>
<rect x="408.9" y="544.2" width="14.2" height="14.6" fill="#eef0f3"/>
<rect x="408.9" y="561.4" width="14.2" height="6.2" fill="#f6f7f8"/>
<rect x="425.5" y="528.1" width="14.1" height="13.9" fill="#e2e6ea"/>
<rect x="425.5" y="544.2" width="14.1" height="14.6" fill="#eef0f3"/>
<rect x="425.5" y="561.4" width="14.1" height="6.2" fill="#f6f7f8"/>
<rect x="442" y="528.1" width="13.9" height="13.9" fill="#e2e6ea"/>
<rect x="442" y="544.2" width="13.9" height="14.6" fill="#eef0f3"/>
<rect x="442" y="561.4" width="13.9" height="6.2" fill="#f6f7f8"/>
<rect x="458.5" y="528.1" width="14.2" height="13.9" fill="#e2e6ea"/>
<rect x="458.5" y="544.2" width="14.2" height="14.6" fill="#eef0f3"/>
<rect x="458.5" y="561.4" width="14.2" height="6.2" fill="#f6f7f8"/>
<rect x="391.2" y="458" width="82" height="65.7" fill="#fff" stroke="#b4bdc8" stroke-width="2"/>
<line x1="407.7" y1="458" x2="407.7" y2="523.7" stroke="#bcc5cf" stroke-width="1.3"/>
<line x1="424.5" y1="458" x2="424.5" y2="523.7" stroke="#bcc5cf" stroke-width="1.3"/>
<line x1="441" y1="458" x2="441" y2="523.7" stroke="#bcc5cf" stroke-width="1.3"/>
<line x1="457.4" y1="458" x2="457.4" y2="523.7" stroke="#bcc5cf" stroke-width="1.3"/>
<line x1="391.2" y1="474.1" x2="473.2" y2="474.1" stroke="#bcc5cf" stroke-width="1.3"/>
<line x1="391.2" y1="491.6" x2="473.2" y2="491.6" stroke="#bcc5cf" stroke-width="1.3"/>
<line x1="391.2" y1="507.7" x2="473.2" y2="507.7" stroke="#bcc5cf" stroke-width="1.3"/>
<polyline points="392.4,500.4 418.7,471.2 445.7,501.1 469,498.9" fill="none" stroke="#e5d25e" stroke-width="4.2" stroke-linecap="round" stroke-linejoin="round"/>
<polyline points="392.4,512 418.7,485 432.6,490.1 445.7,493.8 469,468.2" fill="none" stroke="#2b8f98" stroke-width="4.2" stroke-linecap="round" stroke-linejoin="round"/>
<path d="M425,478.5 L437,491.5" stroke="#e5d25e" stroke-width="4.2" stroke-linecap="round"/>
<text x="423.5" y="558.8" font-size="12.4" fill="#111">OSA</text>
<rect x="383.1" y="702.6" width="55.9" height="22.1" fill="#c6d4ee" stroke="#6a6f7a" stroke-width="1"/>
<line x1="427.8" y1="574.8" x2="427.8" y2="692.8" stroke="#000" stroke-width="2.1"/>
<path d="M427.9,694.4 C428,703 435,712 444,712.8" fill="none" stroke="#1ea3dc" stroke-width="2.8"/>
<line x1="447.9" y1="711.6" x2="592.6" y2="709.2" stroke="#000" stroke-width="2.6"/>
<line x1="240.4" y1="574.9" x2="416.3" y2="684.8" stroke="#dc1e24" stroke-width="2.6" stroke-dasharray="2.3 2.1" fill="none"/>
<line x1="240.4" y1="723.4" x2="416.3" y2="718" stroke="#dc1e24" stroke-width="2.6" stroke-dasharray="2.3 2.1" fill="none"/>
<path d="M416.8,685.3 L454.2,685.3 L454.2,717.7 L416.8,717.7 Z" stroke="#dc1e24" stroke-width="2.6" stroke-dasharray="2.3 2.1" fill="none"/>
<rect x="592.6" y="676.4" width="76" height="62.5" fill="#ffff00" stroke="#9a9a30" stroke-width="1"/>
<text x="630.5" y="704.3" font-size="12.8" text-anchor="middle" fill="#111">Light</text>
<text x="630.5" y="722.8" font-size="12.8" text-anchor="middle" fill="#111">source</text>
</svg></body></html>
